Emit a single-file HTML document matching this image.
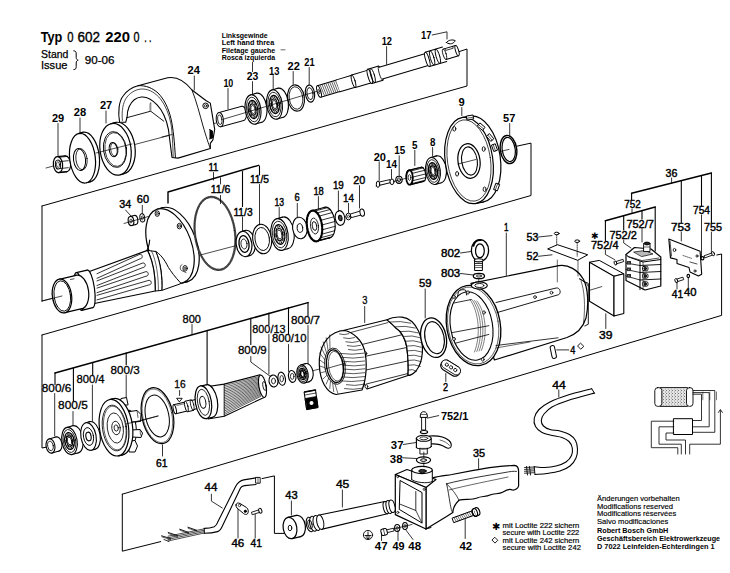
<!DOCTYPE html>
<html><head><meta charset="utf-8"><style>
html,body{margin:0;padding:0;background:#fff;width:730px;height:573px;overflow:hidden}
svg{display:block}
text{font-family:"Liberation Sans",sans-serif}
</style></head><body>
<svg width="730" height="573" viewBox="0 0 730 573">
<defs><pattern id="stip" width="3" height="3" patternUnits="userSpaceOnUse"><rect width="3" height="3" fill="#e4e4e4"/><rect x="0" y="0" width="1" height="1" fill="#777"/><rect x="2" y="1.5" width="1" height="1" fill="#999"/></pattern></defs>
<rect width="730" height="573" fill="#fff"/>
<g stroke="#000" fill="none" stroke-linecap="round" stroke-linejoin="round">
<polyline points="42,206 467,86 467,49 458,52" stroke-width="1.0" fill="none" />
<line x1="42" y1="206" x2="42" y2="301" stroke-width="1.0" />
<line x1="42" y1="301" x2="53" y2="298.2" stroke-width="0.8" />
<polyline points="42,335 531,195.5 531,143.1 516.7,146.2" stroke-width="1.0" fill="none" />
<polyline points="42,335 42,448 47,447" stroke-width="1.0" fill="none" />
<polyline points="122.3,494.2 721.6,315.4 721.6,254 716.8,255" stroke-width="1.0" fill="none" />
<polyline points="122.3,494.2 122.3,551.2 160.7,541.6" stroke-width="1.0" fill="none" />
<polyline points="262,478.6 274.4,475.9 274.4,533.4 285.3,533.4" stroke-width="1.0" fill="none" />
</g>
<g stroke="#000" fill="none" stroke-linecap="round" stroke-linejoin="round">
<line x1="46" y1="168" x2="216" y2="123" stroke-width="0.7" />
<ellipse cx="66" cy="163.8" rx="4.6" ry="8" stroke-width="1.2" fill="#fff" transform="rotate(-6 66 163.8)" />
<polygon points="57.2,156.6 65.2,155.8 66.8,171.8 58.8,172.6" fill="#fff" stroke="none"/>
<line x1="57.2" y1="156.6" x2="65.2" y2="155.8" stroke-width="1.2" />
<line x1="58.8" y1="172.6" x2="66.8" y2="171.8" stroke-width="1.2" />
<ellipse cx="58" cy="164.6" rx="4.6" ry="8" stroke-width="1.2" fill="#fff" transform="rotate(-6 58 164.6)" />
<line x1="59.5" y1="157.2" x2="67.5" y2="156.4" stroke-width="0.8" />
<line x1="60.3" y1="161.5" x2="68.3" y2="160.7" stroke-width="0.8" />
<line x1="60.3" y1="168.5" x2="68.3" y2="167.7" stroke-width="0.8" />
<line x1="59.5" y1="172.2" x2="67.5" y2="171.4" stroke-width="0.8" />
<ellipse cx="58" cy="164.6" rx="2.6" ry="4.5" stroke-width="1.0" fill="#fff" transform="rotate(-6 58 164.6)" />
<ellipse cx="58" cy="164.6" rx="1.5" ry="2.8" stroke-width="0.7" fill="none" transform="rotate(-6 58 164.6)" />
<ellipse cx="86.5" cy="157" rx="12.8" ry="25" stroke-width="1.2" fill="#fff" transform="rotate(-7 86.5 157)" />
<polygon points="78.4,133.6 82.4,132.4 90.6,181.6 86.6,182.8" fill="#fff" stroke="none"/>
<line x1="78.4" y1="133.6" x2="82.4" y2="132.4" stroke-width="1.2" />
<line x1="86.6" y1="182.8" x2="90.6" y2="181.6" stroke-width="1.2" />
<ellipse cx="82.5" cy="158.2" rx="12.8" ry="25" stroke-width="1.2" fill="#fff" transform="rotate(-7 82.5 158.2)" />
<ellipse cx="79.5" cy="159.5" rx="6" ry="11" stroke-width="1.0" fill="#fff" transform="rotate(-7 79.5 159.5)" />
<ellipse cx="81.5" cy="159.2" rx="5.6" ry="10.6" stroke-width="0.8" fill="none" transform="rotate(-7 81.5 159.2)" />
<ellipse cx="119.5" cy="148.1" rx="15.5" ry="26" stroke-width="1.2" fill="#fff" transform="rotate(-8 119.5 148.1)" />
<polygon points="110.5,123.9 114.5,122.7 124.5,173.5 120.5,174.7" fill="#fff" stroke="none"/>
<line x1="110.5" y1="123.9" x2="114.5" y2="122.7" stroke-width="1.2" />
<line x1="120.5" y1="174.7" x2="124.5" y2="173.5" stroke-width="1.2" />
<ellipse cx="115.5" cy="149.3" rx="15.5" ry="26" stroke-width="1.2" fill="#fff" transform="rotate(-8 115.5 149.3)" />
<ellipse cx="115" cy="149.5" rx="11.5" ry="18" stroke-width="0.9" fill="none" transform="rotate(-8 115 149.5)" />
<ellipse cx="115.5" cy="149.5" rx="10.5" ry="17" stroke-width="0.7" fill="none" transform="rotate(-8 115.5 149.5)" />
<ellipse cx="113.2" cy="149.6" rx="4" ry="7.2" stroke-width="1.0" fill="#fff" transform="rotate(-8 113.2 149.6)" />
<ellipse cx="114.3" cy="149.4" rx="3.6" ry="6.8" stroke-width="0.7" fill="none" transform="rotate(-8 114.3 149.4)" />
<line x1="96" y1="153" x2="132" y2="144" stroke-width="0.7" />
<path d="M119.6,122.3 C117.8,112 118.8,101 123.5,95.5 C127,90.5 132,87.3 138,85.7 L167.6,77.8 C175,76.4 184,80 192,90 L205.9,100.5 L210.3,103.1 L214.7,129.3 L212.9,139.8 L210.3,143.3 L210.3,148.5 L178,158.1 L172,157.5 L168.4,129.3 C166.5,120 163,111 157.1,104.9 C152,99.5 146,96.5 141.4,97 C136,97.5 131.5,101.5 129.2,106.6 C127.5,110.5 127.1,114 127.1,117.1 L125.7,122.3 Z" stroke-width="1.1" fill="#fff" />
<path d="M138,85.7 C146,85 153,88.5 158,93 C164,99 168.5,108 171,118.8 C173.3,129 174.5,142 175.4,157.5" stroke-width="1.0" fill="none" />
<path d="M122.4,120.5 C121.5,111 122.8,102.5 127,97 C131,92 136.5,89 142.5,89 C150,89.2 156,93.5 160.5,99 C165.5,105.5 169,114 171,124 C172.3,132 172.8,145 173.2,157.5" stroke-width="0.7" fill="none" />
<polyline points="126.5,117.8 150.7,111.2 150.7,102.9" stroke-width="0.9" fill="none" />
<line x1="150.7" y1="111.2" x2="163.8" y2="121.2" stroke-width="0.9" />
<rect x="149" y="103.5" width="1.6" height="7.5" fill="#bbb" stroke="none"/>
<path d="M192,90 C196,100 200,115 203,126 C206,136 208.5,144 210.3,148.5" stroke-width="0.9" fill="none" />
<ellipse cx="205.6" cy="105.8" rx="2.8" ry="2.8" stroke-width="1.0" fill="#fff" />
<ellipse cx="205.6" cy="105.8" rx="1.2" ry="1.2" stroke-width="0.8" fill="none" />
<polyline points="209.5,129.5 212.5,131 212.5,138 209.5,139" stroke-width="0.9" fill="#000" />
<line x1="162" y1="137" x2="172" y2="134.5" stroke-width="0.7" />
<ellipse cx="242.8" cy="113.4" rx="3.6" ry="7.2" stroke-width="1.0" fill="#fff" transform="rotate(-6 242.8 113.4)" />
<polygon points="218.8,112.6 241.8,106.3 243.8,120.5 220.8,126.8" fill="#fff" stroke="none"/>
<line x1="218.8" y1="112.6" x2="241.8" y2="106.3" stroke-width="1.0" />
<line x1="220.8" y1="126.8" x2="243.8" y2="120.5" stroke-width="1.0" />
<ellipse cx="219.8" cy="119.7" rx="3.6" ry="7.2" stroke-width="1.0" fill="#fff" transform="rotate(-6 219.8 119.7)" />
<ellipse cx="219.8" cy="119.7" rx="2.1" ry="4.8" stroke-width="0.8" fill="#fff" transform="rotate(-6 219.8 119.7)" />
<ellipse cx="259" cy="107.8" rx="7.8" ry="14.8" stroke-width="1.1" fill="#fff" transform="rotate(-8 259 107.8)" />
<polygon points="250.4,95.0 256.4,93.3 261.6,122.3 255.6,124.0" fill="#fff" stroke="none"/>
<line x1="250.4" y1="95" x2="256.4" y2="93.3" stroke-width="1.1" />
<line x1="255.6" y1="124" x2="261.6" y2="122.3" stroke-width="1.1" />
<ellipse cx="253" cy="109.5" rx="7.8" ry="14.8" stroke-width="1.1" fill="#fff" transform="rotate(-8 253 109.5)" />
<ellipse cx="253" cy="109.5" rx="6.4" ry="12.4" stroke-width="0.8" fill="none" transform="rotate(-8 253 109.5)" />
<ellipse cx="253" cy="109.5" rx="4.8" ry="9.2" stroke-width="1.2" fill="none" transform="rotate(-8 253 109.5)" />
<ellipse cx="256.9" cy="109" rx="0.9" ry="1.5" stroke-width="0.7" fill="none" />
<ellipse cx="256.5" cy="114.3" rx="0.9" ry="1.5" stroke-width="0.7" fill="none" />
<ellipse cx="254" cy="116.8" rx="0.9" ry="1.5" stroke-width="0.7" fill="none" />
<ellipse cx="251" cy="115.1" rx="0.9" ry="1.5" stroke-width="0.7" fill="none" />
<ellipse cx="249.1" cy="110" rx="0.9" ry="1.5" stroke-width="0.7" fill="none" />
<ellipse cx="249.5" cy="104.7" rx="0.9" ry="1.5" stroke-width="0.7" fill="none" />
<ellipse cx="252" cy="102.2" rx="0.9" ry="1.5" stroke-width="0.7" fill="none" />
<ellipse cx="255" cy="103.9" rx="0.9" ry="1.5" stroke-width="0.7" fill="none" />
<ellipse cx="253" cy="109.5" rx="3" ry="5.6" stroke-width="1.1" fill="#fff" transform="rotate(-8 253 109.5)" />
<ellipse cx="253" cy="109.5" rx="2.2" ry="4.1" stroke-width="0.8" fill="none" transform="rotate(-8 253 109.5)" />
<ellipse cx="280.5" cy="102.8" rx="7.8" ry="14.8" stroke-width="1.1" fill="#fff" transform="rotate(-8 280.5 102.8)" />
<polygon points="271.9,90.0 277.9,88.3 283.1,117.3 277.1,119.0" fill="#fff" stroke="none"/>
<line x1="271.9" y1="90" x2="277.9" y2="88.3" stroke-width="1.1" />
<line x1="277.1" y1="119" x2="283.1" y2="117.3" stroke-width="1.1" />
<ellipse cx="274.5" cy="104.5" rx="7.8" ry="14.8" stroke-width="1.1" fill="#fff" transform="rotate(-8 274.5 104.5)" />
<ellipse cx="274.5" cy="104.5" rx="6.4" ry="12.4" stroke-width="0.8" fill="none" transform="rotate(-8 274.5 104.5)" />
<ellipse cx="274.5" cy="104.5" rx="4.8" ry="9.2" stroke-width="1.2" fill="none" transform="rotate(-8 274.5 104.5)" />
<ellipse cx="278.4" cy="104" rx="0.9" ry="1.5" stroke-width="0.7" fill="none" />
<ellipse cx="278" cy="109.3" rx="0.9" ry="1.5" stroke-width="0.7" fill="none" />
<ellipse cx="275.5" cy="111.8" rx="0.9" ry="1.5" stroke-width="0.7" fill="none" />
<ellipse cx="272.5" cy="110.1" rx="0.9" ry="1.5" stroke-width="0.7" fill="none" />
<ellipse cx="270.6" cy="105" rx="0.9" ry="1.5" stroke-width="0.7" fill="none" />
<ellipse cx="271" cy="99.7" rx="0.9" ry="1.5" stroke-width="0.7" fill="none" />
<ellipse cx="273.5" cy="97.2" rx="0.9" ry="1.5" stroke-width="0.7" fill="none" />
<ellipse cx="276.5" cy="98.9" rx="0.9" ry="1.5" stroke-width="0.7" fill="none" />
<ellipse cx="274.5" cy="104.5" rx="3" ry="5.6" stroke-width="1.1" fill="#fff" transform="rotate(-8 274.5 104.5)" />
<ellipse cx="274.5" cy="104.5" rx="2.2" ry="4.1" stroke-width="0.8" fill="none" transform="rotate(-8 274.5 104.5)" />
<line x1="224" y1="119" x2="318" y2="91" stroke-width="0.7" />
<ellipse cx="296" cy="98" rx="8.4" ry="13.2" stroke-width="1.1" fill="none" transform="rotate(-8 296 98)" />
<ellipse cx="296" cy="98" rx="6.8" ry="11.3" stroke-width="0.8" fill="none" transform="rotate(-8 296 98)" />
<ellipse cx="310" cy="93.6" rx="4.6" ry="8.6" stroke-width="1.1" fill="none" transform="rotate(-8 310 93.6)" />
<ellipse cx="310" cy="93.6" rx="3" ry="6" stroke-width="0.9" fill="none" transform="rotate(-8 310 93.6)" />
<g transform="translate(319,91.5) rotate(-16.5)">
<rect x="0" y="-6.0" width="20" height="12.0" fill="#fff" stroke="none"/>
<line x1="0" y1="-6" x2="20" y2="-6" stroke-width="1.0" />
<line x1="0" y1="6" x2="20" y2="6" stroke-width="1.0" />
<line x1="3" y1="-5.2" x2="4" y2="5.2" stroke-width="0.55" />
<line x1="5" y1="-5.2" x2="6" y2="5.2" stroke-width="0.55" />
<line x1="7" y1="-5.2" x2="8" y2="5.2" stroke-width="0.55" />
<line x1="9" y1="-5.2" x2="10" y2="5.2" stroke-width="0.55" />
<line x1="11" y1="-5.2" x2="12" y2="5.2" stroke-width="0.55" />
<line x1="13" y1="-5.2" x2="14" y2="5.2" stroke-width="0.55" />
<line x1="15" y1="-5.2" x2="16" y2="5.2" stroke-width="0.55" />
<line x1="17" y1="-5.2" x2="18" y2="5.2" stroke-width="0.55" />
<line x1="19" y1="-5.2" x2="20" y2="5.2" stroke-width="0.55" />
<ellipse cx="0" cy="0" rx="1.8" ry="6" stroke-width="1.0" fill="#fff" />
<ellipse cx="0" cy="0" rx="0.8" ry="2.5" stroke-width="0.6" fill="none" />
<rect x="20" y="-6.2" width="16" height="12.4" fill="#fff" stroke="none"/>
<line x1="20" y1="-6.2" x2="36" y2="-6.2" stroke-width="1.0" />
<line x1="20" y1="6.2" x2="36" y2="6.2" stroke-width="1.0" />
<rect x="36" y="-6.6" width="17" height="13.2" fill="#fff" stroke="none"/>
<line x1="36" y1="-6.6" x2="53" y2="-6.6" stroke-width="1.0" />
<line x1="36" y1="6.6" x2="53" y2="6.6" stroke-width="1.0" />
<ellipse cx="36" cy="0" rx="1.6" ry="6.6" stroke-width="0.9" fill="none" />
<rect x="53" y="-7.4" width="11.5" height="14.8" fill="#fff" stroke="none"/>
<line x1="53" y1="-7.4" x2="64.5" y2="-7.4" stroke-width="1.0" />
<line x1="53" y1="7.4" x2="64.5" y2="7.4" stroke-width="1.0" />
<ellipse cx="53" cy="0" rx="1.8" ry="7.4" stroke-width="1.0" fill="#fff" />
<ellipse cx="56" cy="0" rx="1.8" ry="7.4" stroke-width="0.9" fill="none" />
<ellipse cx="64.5" cy="0" rx="1.6" ry="7.4" stroke-width="0.8" fill="none" />
<rect x="64.5" y="-6.1" width="48.5" height="12.2" fill="#fff" stroke="none"/>
<line x1="64.5" y1="-6.1" x2="113" y2="-6.1" stroke-width="1.0" />
<line x1="64.5" y1="6.1" x2="113" y2="6.1" stroke-width="1.0" />
<rect x="113" y="-7.5" width="18" height="15.0" fill="#fff" stroke="none"/>
<line x1="113" y1="-7.5" x2="131" y2="-7.5" stroke-width="1.0" />
<line x1="113" y1="7.5" x2="131" y2="7.5" stroke-width="1.0" />
<ellipse cx="113" cy="0" rx="1.8" ry="7.5" stroke-width="1.0" fill="#fff" />
<ellipse cx="118" cy="0" rx="1.8" ry="7.5" stroke-width="0.9" fill="none" />
<ellipse cx="124" cy="0" rx="1.8" ry="7.5" stroke-width="0.9" fill="none" />
<rect x="131" y="-5.4" width="13" height="10.8" fill="#fff" stroke="none"/>
<line x1="131" y1="-5.4" x2="144" y2="-5.4" stroke-width="1.0" />
<line x1="131" y1="5.4" x2="144" y2="5.4" stroke-width="1.0" />
<ellipse cx="131" cy="0" rx="1.6" ry="5.4" stroke-width="0.8" fill="none" />
<ellipse cx="144" cy="0" rx="1.5" ry="5.4" stroke-width="1.0" fill="#fff" />
<path d="M133,-5.4 L133,-3.4 L141,-3.4 L141,-5.4" stroke-width="0.7" fill="none" />
</g>
<path d="M446.4,42.5 C448.5,39.8 452.5,39.4 455.2,40.6 C454,43.5 450,45.3 446.4,42.5 Z" stroke-width="1.0" fill="#fff" />
<polyline points="432.2,35 447,31.8 447,39" stroke-width="0.8" fill="none" />
<line x1="58" y1="123.5" x2="58" y2="156" stroke-width="0.8" />
<line x1="80" y1="118" x2="80" y2="134" stroke-width="0.8" />
<line x1="106" y1="111" x2="106" y2="123" stroke-width="0.8" />
<line x1="194.3" y1="76" x2="194.3" y2="90" stroke-width="0.8" />
<line x1="228" y1="88.5" x2="228" y2="109" stroke-width="0.8" />
<line x1="252.5" y1="62.5" x2="252.5" y2="71.5" stroke-width="0.8" />
<line x1="252.5" y1="81.6" x2="252.5" y2="94" stroke-width="0.8" />
<line x1="273.2" y1="75.5" x2="273.2" y2="89" stroke-width="0.8" />
<line x1="293.2" y1="71.5" x2="293.2" y2="84.5" stroke-width="0.8" />
<line x1="309.2" y1="67.5" x2="309.2" y2="85" stroke-width="0.8" />
<line x1="386.6" y1="46.6" x2="386.6" y2="64.4" stroke-width="0.8" />
<line x1="281" y1="49.8" x2="285" y2="49.8" stroke-width="0.6" />
<line x1="52" y1="294" x2="364" y2="212" stroke-width="0.7" />
<ellipse cx="135" cy="220" rx="2.8" ry="4.6" stroke-width="1.1" fill="#fff" transform="rotate(-8 135 220)" />
<polygon points="130.2,216.5 134.2,215.5 135.8,224.5 131.8,225.5" fill="#fff" stroke="none"/>
<line x1="130.2" y1="216.5" x2="134.2" y2="215.5" stroke-width="1.1" />
<line x1="131.8" y1="225.5" x2="135.8" y2="224.5" stroke-width="1.1" />
<ellipse cx="131" cy="221" rx="2.8" ry="4.6" stroke-width="1.1" fill="#fff" transform="rotate(-8 131 221)" />
<ellipse cx="131" cy="221" rx="1.2" ry="2" stroke-width="0.7" fill="none" />
<ellipse cx="142.3" cy="217.9" rx="2.4" ry="4.2" stroke-width="1.0" fill="#fff" transform="rotate(-8 142.3 217.9)" />
<ellipse cx="142.3" cy="217.9" rx="1" ry="2" stroke-width="0.7" fill="none" />
<line x1="124" y1="223.5" x2="157" y2="214" stroke-width="0.7" />
<line x1="125.5" y1="210" x2="131" y2="216" stroke-width="0.8" />
<line x1="142.3" y1="205.3" x2="142.3" y2="213.5" stroke-width="0.8" />
<ellipse cx="175" cy="244.7" rx="21.5" ry="39" stroke-width="1.2" fill="#fff" transform="rotate(-20 175 244.7)" />
<polygon points="157.7,209.0 162.7,207.7 187.3,281.7 182.3,283.0" fill="#fff" stroke="none"/>
<line x1="157.7" y1="209" x2="162.7" y2="207.7" stroke-width="1.2" />
<line x1="182.3" y1="283" x2="187.3" y2="281.7" stroke-width="1.2" />
<ellipse cx="170" cy="246" rx="21.5" ry="39" stroke-width="1.2" fill="#fff" transform="rotate(-20 170 246)" />
<ellipse cx="157.3" cy="213.6" rx="2.2" ry="2.8" stroke-width="0.9" fill="#fff" />
<ellipse cx="157.3" cy="213.6" rx="1" ry="1.3" stroke-width="0.7" fill="none" />
<ellipse cx="179.4" cy="226.1" rx="2.2" ry="2.8" stroke-width="0.9" fill="#fff" />
<ellipse cx="179.4" cy="226.1" rx="1" ry="1.3" stroke-width="0.7" fill="none" />
<ellipse cx="185.1" cy="268.3" rx="2.2" ry="2.8" stroke-width="0.9" fill="#fff" />
<ellipse cx="185.1" cy="268.3" rx="1" ry="1.3" stroke-width="0.7" fill="none" />
<path d="M182,264.5 C180,265.5 179.5,269 181.5,270.5 L186,272.5" stroke-width="0.7" fill="none" />
<path d="M155.8,251.5 C160,254 164,258.5 168.4,267.4 C171,271.5 175,277 180.4,282.7 L180.4,283.8 L161.8,290.4 C162.5,282 162,265 155.8,251.5 Z" stroke-width="1.0" fill="#fff" />
<path d="M146.4,251 C148.3,248.5 149.3,244.5 149.7,240" stroke-width="1.1" fill="none" />
<path d="M147.5,250.4 L155.8,251.5 C160.5,262 162.5,278 161.8,290.4 L155.2,291 C155.5,279 153.5,262 147.5,250.4 Z" stroke-width="1.0" fill="#fff" />
<path d="M151.5,250.9 C156.5,261 158.5,277 158.4,290.7" stroke-width="0.6" fill="none" />
<path d="M88,272 L147.5,250.4 C153.5,262 155.5,279 155.2,291 L87,305 Z" stroke-width="1.2" fill="#fff" />
<path d="M97,273.7 L140,254.2 C143,254.2 143,258.8 140,258.8 L97,278.3" stroke-width="0.8" fill="none" />
<path d="M97,280.9 L143,262.9 C146,262.9 146,267.5 143,267.5 L97,285.5" stroke-width="0.8" fill="none" />
<path d="M97,288.1 L146,271.6 C149,271.6 149,276.2 146,276.2 L97,292.7" stroke-width="0.8" fill="none" />
<path d="M97,295.3 L149,280.3 C152,280.3 152,284.9 149,284.9 L97,299.9" stroke-width="0.8" fill="none" />
<ellipse cx="90" cy="288.9" rx="4.5" ry="19" stroke-width="1.2" fill="#fff" transform="rotate(-8 90 288.9)" />
<polygon points="76.3,272.7 87.3,270.1 92.7,307.7 81.7,310.3" fill="#fff" stroke="none"/>
<line x1="76.3" y1="272.7" x2="87.3" y2="270.1" stroke-width="1.2" />
<line x1="81.7" y1="310.3" x2="92.7" y2="307.7" stroke-width="1.2" />
<ellipse cx="79" cy="291.5" rx="4.5" ry="19" stroke-width="1.2" fill="#fff" transform="rotate(-8 79 291.5)" />
<ellipse cx="79" cy="292" rx="9.6" ry="17" stroke-width="1.2" fill="#fff" transform="rotate(-8 79 292)" />
<polygon points="59.1,279.3 76.1,275.3 81.9,308.7 64.9,312.7" fill="#fff" stroke="none"/>
<line x1="59.1" y1="279.3" x2="76.1" y2="275.3" stroke-width="1.2" />
<line x1="64.9" y1="312.7" x2="81.9" y2="308.7" stroke-width="1.2" />
<ellipse cx="62" cy="296" rx="9.6" ry="17" stroke-width="1.2" fill="#fff" transform="rotate(-8 62 296)" />
<ellipse cx="62.3" cy="296" rx="8.2" ry="15.3" stroke-width="0.9" fill="#fff" transform="rotate(-8 62.3 296)" />
<line x1="70.5" y1="279.5" x2="74" y2="278.8" stroke-width="0.7" />
<line x1="42" y1="301" x2="62" y2="296" stroke-width="0.7" />
<ellipse cx="215" cy="233.4" rx="20.3" ry="37" stroke-width="1.7" fill="none" transform="rotate(-8 215 233.4)" stroke="#444" stroke-dasharray="0.8 0.8"/>
<ellipse cx="215" cy="233.4" rx="19.4" ry="36.1" stroke-width="0.6" fill="none" transform="rotate(-8 215 233.4)" />
<ellipse cx="247.5" cy="243" rx="7.8" ry="12.8" stroke-width="1.2" fill="#fff" transform="rotate(-8 247.5 243)" />
<polygon points="241.6,231.5 245.1,230.5 249.9,255.5 246.4,256.5" fill="#fff" stroke="none"/>
<line x1="241.6" y1="231.5" x2="245.1" y2="230.5" stroke-width="1.2" />
<line x1="246.4" y1="256.5" x2="249.9" y2="255.5" stroke-width="1.2" />
<ellipse cx="244" cy="244" rx="7.8" ry="12.8" stroke-width="1.2" fill="#fff" transform="rotate(-8 244 244)" />
<ellipse cx="244" cy="244" rx="5" ry="8.5" stroke-width="1.3" fill="#fff" transform="rotate(-8 244 244)" />
<ellipse cx="244" cy="244" rx="3" ry="5" stroke-width="0.8" fill="none" transform="rotate(-8 244 244)" />
<ellipse cx="262.2" cy="239" rx="9.4" ry="14.8" stroke-width="1.1" fill="#fff" transform="rotate(-8 262.2 239)" />
<ellipse cx="262.2" cy="239" rx="7.2" ry="11.6" stroke-width="0.9" fill="none" transform="rotate(-8 262.2 239)" />
<ellipse cx="285.5" cy="232.8" rx="8.6" ry="16" stroke-width="1.1" fill="#fff" transform="rotate(-8 285.5 232.8)" />
<polygon points="276.7,218.8 282.7,217.1 288.3,248.5 282.3,250.2" fill="#fff" stroke="none"/>
<line x1="276.7" y1="218.8" x2="282.7" y2="217.1" stroke-width="1.1" />
<line x1="282.3" y1="250.2" x2="288.3" y2="248.5" stroke-width="1.1" />
<ellipse cx="279.5" cy="234.5" rx="8.6" ry="16" stroke-width="1.1" fill="#fff" transform="rotate(-8 279.5 234.5)" />
<ellipse cx="279.5" cy="234.5" rx="7.1" ry="13.4" stroke-width="0.8" fill="none" transform="rotate(-8 279.5 234.5)" />
<ellipse cx="279.5" cy="234.5" rx="5.3" ry="9.9" stroke-width="1.2" fill="none" transform="rotate(-8 279.5 234.5)" />
<ellipse cx="283.8" cy="233.9" rx="0.9" ry="1.6" stroke-width="0.7" fill="none" />
<ellipse cx="283.3" cy="239.7" rx="0.9" ry="1.6" stroke-width="0.7" fill="none" />
<ellipse cx="280.6" cy="242.4" rx="0.9" ry="1.6" stroke-width="0.7" fill="none" />
<ellipse cx="277.3" cy="240.5" rx="0.9" ry="1.6" stroke-width="0.7" fill="none" />
<ellipse cx="275.2" cy="235.1" rx="0.9" ry="1.6" stroke-width="0.7" fill="none" />
<ellipse cx="275.7" cy="229.3" rx="0.9" ry="1.6" stroke-width="0.7" fill="none" />
<ellipse cx="278.4" cy="226.6" rx="0.9" ry="1.6" stroke-width="0.7" fill="none" />
<ellipse cx="281.7" cy="228.5" rx="0.9" ry="1.6" stroke-width="0.7" fill="none" />
<ellipse cx="279.5" cy="234.5" rx="3.3" ry="6.1" stroke-width="1.1" fill="#fff" transform="rotate(-8 279.5 234.5)" />
<ellipse cx="279.5" cy="234.5" rx="2.4" ry="4.5" stroke-width="0.8" fill="none" transform="rotate(-8 279.5 234.5)" />
<ellipse cx="299.9" cy="228" rx="7.3" ry="10.8" stroke-width="1.1" fill="#fff" transform="rotate(-8 299.9 228)" />
<ellipse cx="299.9" cy="228" rx="2.8" ry="4.4" stroke-width="0.9" fill="none" transform="rotate(-8 299.9 228)" />
<ellipse cx="327.5" cy="222.5" rx="7.5" ry="15.5" stroke-width="1.1" fill="#fff" transform="rotate(-8 327.5 222.5)" />
<polygon points="311.9,210.7 324.9,207.2 330.1,237.8 317.1,241.3" fill="#fff" stroke="none"/>
<line x1="311.9" y1="210.7" x2="324.9" y2="207.2" stroke-width="1.1" />
<line x1="317.1" y1="241.3" x2="330.1" y2="237.8" stroke-width="1.1" />
<ellipse cx="314.5" cy="226" rx="7.5" ry="15.5" stroke-width="1.1" fill="#fff" transform="rotate(-8 314.5 226)" />
<line x1="314.7" y1="211.1" x2="327.7" y2="207.6" stroke-width="0.8" />
<line x1="317.1" y1="213" x2="330.1" y2="209.5" stroke-width="0.8" />
<line x1="319.2" y1="216.1" x2="332.2" y2="212.6" stroke-width="0.8" />
<line x1="320.9" y1="220.3" x2="333.9" y2="216.8" stroke-width="0.8" />
<line x1="321.9" y1="225" x2="334.9" y2="221.5" stroke-width="0.8" />
<line x1="322.2" y1="229.8" x2="335.2" y2="226.3" stroke-width="0.8" />
<line x1="321.8" y1="234.2" x2="334.8" y2="230.7" stroke-width="0.8" />
<line x1="320.6" y1="237.8" x2="333.6" y2="234.3" stroke-width="0.8" />
<line x1="318.8" y1="240.3" x2="331.8" y2="236.8" stroke-width="0.8" />
<line x1="316.7" y1="241.3" x2="329.7" y2="237.8" stroke-width="0.8" />
<ellipse cx="314.5" cy="226" rx="7.5" ry="15.5" transform="rotate(-8 314.5 226)" stroke-width="2.2" fill="#fff" stroke-dasharray="2 1.4"/>
<ellipse cx="314.5" cy="226" rx="4" ry="8" stroke-width="0.8" fill="none" transform="rotate(-8 314.5 226)" />
<ellipse cx="314.5" cy="226" rx="2.2" ry="4.4" stroke-width="0.9" fill="#fff" transform="rotate(-8 314.5 226)" />
<ellipse cx="340" cy="218" rx="4.8" ry="7.4" stroke-width="1.1" fill="#fff" transform="rotate(-8 340 218)" />
<ellipse cx="340.3" cy="218" rx="1.8" ry="2.8" stroke-width="1.0" fill="#444" transform="rotate(-8 340.3 218)" />
<ellipse cx="348.5" cy="216.5" rx="2.6" ry="3.4" stroke-width="1.0" fill="#fff" />
<ellipse cx="348.5" cy="216.5" rx="1" ry="1.4" stroke-width="0.7" fill="none" />
<polygon points="350.5,214 361,210.8 362,214.8 351.5,217.6" stroke-width="0.9" fill="#fff" />
<ellipse cx="362.2" cy="212.6" rx="2.2" ry="3.6" stroke-width="1.0" fill="#fff" transform="rotate(-10 362.2 212.6)" />
<polyline points="168,203 168,192 258.6,165.3" stroke-width="1.4" fill="none" />
<line x1="213.5" y1="172.5" x2="213.5" y2="180" stroke-width="0.8" />
<line x1="220.5" y1="177.8" x2="220.5" y2="184" stroke-width="0.8" />
<line x1="220.5" y1="195.5" x2="220.5" y2="203.5" stroke-width="0.8" />
<line x1="242.5" y1="171.5" x2="242.5" y2="206.5" stroke-width="1.1" />
<line x1="242.5" y1="217" x2="242.5" y2="231" stroke-width="0.8" />
<line x1="259.5" y1="166" x2="259.5" y2="175" stroke-width="1.1" />
<line x1="259.5" y1="184.5" x2="259.5" y2="224.5" stroke-width="0.8" />
<line x1="279.2" y1="207.5" x2="279.2" y2="218.5" stroke-width="0.8" />
<line x1="297.3" y1="203.4" x2="297.3" y2="217" stroke-width="0.8" />
<line x1="318.4" y1="196.6" x2="318.4" y2="209" stroke-width="0.8" />
<line x1="338.4" y1="191" x2="338.4" y2="211.5" stroke-width="0.8" />
<line x1="348.5" y1="203.4" x2="348.5" y2="212.5" stroke-width="0.8" />
<line x1="359.5" y1="185.6" x2="359.5" y2="208" stroke-width="0.8" />
<line x1="376" y1="186" x2="512" y2="151" stroke-width="0.7" />
<polygon points="378,182.3 390,179.6 390.5,182.6 378.5,185.6" stroke-width="0.9" fill="#fff" />
<ellipse cx="378" cy="184.2" rx="1.7" ry="3.2" stroke-width="1.0" fill="#fff" />
<ellipse cx="392" cy="181.8" rx="2" ry="2.8" stroke-width="1.0" fill="#fff" />
<ellipse cx="399" cy="179.8" rx="3.2" ry="3.6" stroke-width="1.1" fill="none" />
<ellipse cx="399" cy="179.8" rx="1.6" ry="2" stroke-width="0.8" fill="none" />
<ellipse cx="422.5" cy="174.3" rx="3.2" ry="7.2" stroke-width="1.1" fill="#fff" transform="rotate(-8 422.5 174.3)" />
<polygon points="408.4,170.4 421.4,167.2 423.6,181.4 410.6,184.6" fill="#fff" stroke="none"/>
<line x1="408.4" y1="170.4" x2="421.4" y2="167.2" stroke-width="1.1" />
<line x1="410.6" y1="184.6" x2="423.6" y2="181.4" stroke-width="1.1" />
<ellipse cx="409.5" cy="177.5" rx="3.2" ry="7.2" stroke-width="1.1" fill="#fff" transform="rotate(-8 409.5 177.5)" />
<line x1="408.5" y1="170.4" x2="421.5" y2="167.2" stroke-width="0.8" />
<line x1="410.2" y1="171.1" x2="423.2" y2="167.9" stroke-width="0.8" />
<line x1="411.7" y1="173.5" x2="424.7" y2="170.3" stroke-width="0.8" />
<line x1="412.7" y1="177.1" x2="425.7" y2="173.9" stroke-width="0.8" />
<line x1="412.7" y1="180.7" x2="425.7" y2="177.5" stroke-width="0.8" />
<line x1="412" y1="183.5" x2="425" y2="180.3" stroke-width="0.8" />
<line x1="410.5" y1="184.6" x2="423.5" y2="181.4" stroke-width="0.8" />
<ellipse cx="409.5" cy="177.5" rx="3.2" ry="7.2" stroke-width="1.8" fill="#fff" stroke-dasharray="1.5 1"/>
<ellipse cx="409.5" cy="177.5" rx="1.4" ry="2.8" stroke-width="0.8" fill="none" />
<ellipse cx="439" cy="169.3" rx="7.3" ry="13.6" stroke-width="1.1" fill="#fff" transform="rotate(-8 439 169.3)" />
<polygon points="430.6,157.6 436.6,155.9 441.4,182.7 435.4,184.4" fill="#fff" stroke="none"/>
<line x1="430.6" y1="157.6" x2="436.6" y2="155.9" stroke-width="1.1" />
<line x1="435.4" y1="184.4" x2="441.4" y2="182.7" stroke-width="1.1" />
<ellipse cx="433" cy="171" rx="7.3" ry="13.6" stroke-width="1.1" fill="#fff" transform="rotate(-8 433 171)" />
<ellipse cx="433" cy="171" rx="6" ry="11.4" stroke-width="0.8" fill="none" transform="rotate(-8 433 171)" />
<ellipse cx="433" cy="171" rx="4.5" ry="8.4" stroke-width="1.2" fill="none" transform="rotate(-8 433 171)" />
<ellipse cx="436.6" cy="170.5" rx="0.8" ry="1.4" stroke-width="0.7" fill="none" />
<ellipse cx="436.2" cy="175.4" rx="0.8" ry="1.4" stroke-width="0.7" fill="none" />
<ellipse cx="433.9" cy="177.7" rx="0.8" ry="1.4" stroke-width="0.7" fill="none" />
<ellipse cx="431.1" cy="176.1" rx="0.8" ry="1.4" stroke-width="0.7" fill="none" />
<ellipse cx="429.4" cy="171.5" rx="0.8" ry="1.4" stroke-width="0.7" fill="none" />
<ellipse cx="429.8" cy="166.6" rx="0.8" ry="1.4" stroke-width="0.7" fill="none" />
<ellipse cx="432.1" cy="164.3" rx="0.8" ry="1.4" stroke-width="0.7" fill="none" />
<ellipse cx="434.9" cy="165.9" rx="0.8" ry="1.4" stroke-width="0.7" fill="none" />
<ellipse cx="433" cy="171" rx="2.8" ry="5.2" stroke-width="1.1" fill="#fff" transform="rotate(-8 433 171)" />
<ellipse cx="433" cy="171" rx="2" ry="3.8" stroke-width="0.8" fill="none" transform="rotate(-8 433 171)" />
<ellipse cx="476.5" cy="159" rx="23.8" ry="43.5" stroke-width="1.2" fill="#fff" transform="rotate(-8.4 476.5 159)" />
<polygon points="462.0,117.6 469.5,116.1 483.5,201.9 476.0,203.4" fill="#fff" stroke="none"/>
<line x1="462" y1="117.6" x2="469.5" y2="116.1" stroke-width="1.2" />
<line x1="476" y1="203.4" x2="483.5" y2="201.9" stroke-width="1.2" />
<ellipse cx="469" cy="160.5" rx="23.8" ry="43.5" stroke-width="1.2" fill="#fff" transform="rotate(-8.4 469 160.5)" />
<ellipse cx="469" cy="160.5" rx="21.5" ry="41" stroke-width="0.7" fill="none" transform="rotate(-8.4 469 160.5)" />
<g transform="translate(470,116.5) rotate(-10)">
<polygon points="-3.2,-1 3.2,-1 3.2,3 -3.2,3" fill="#fff" stroke="#000" stroke-width="0.9"/>
<line x1="-3.2" y1="1.2" x2="3.2" y2="1.2" stroke-width="0.6" />
</g>
<g transform="translate(482,126) rotate(40)">
<polygon points="-3.2,-1 3.2,-1 3.2,3 -3.2,3" fill="#fff" stroke="#000" stroke-width="0.9"/>
<line x1="-3.2" y1="1.2" x2="3.2" y2="1.2" stroke-width="0.6" />
</g>
<g transform="translate(491,137) rotate(50)">
<polygon points="-3.2,-1 3.2,-1 3.2,3 -3.2,3" fill="#fff" stroke="#000" stroke-width="0.9"/>
<line x1="-3.2" y1="1.2" x2="3.2" y2="1.2" stroke-width="0.6" />
</g>
<g transform="translate(495.5,147.5) rotate(70)">
<polygon points="-3.2,-1 3.2,-1 3.2,3 -3.2,3" fill="#fff" stroke="#000" stroke-width="0.9"/>
<line x1="-3.2" y1="1.2" x2="3.2" y2="1.2" stroke-width="0.6" />
</g>
<g transform="translate(497.5,187.5) rotate(110)">
<polygon points="-3.2,-1 3.2,-1 3.2,3 -3.2,3" fill="#fff" stroke="#000" stroke-width="0.9"/>
<line x1="-3.2" y1="1.2" x2="3.2" y2="1.2" stroke-width="0.6" />
</g>
<ellipse cx="454.3" cy="128.8" rx="1.5" ry="2.3" stroke-width="0.9" fill="none" />
<ellipse cx="483.7" cy="149" rx="1.5" ry="2.3" stroke-width="0.9" fill="none" />
<ellipse cx="457.1" cy="173.8" rx="1.5" ry="2.3" stroke-width="0.9" fill="none" />
<ellipse cx="484.6" cy="189.3" rx="1.5" ry="2.3" stroke-width="0.9" fill="none" />
<ellipse cx="469" cy="161" rx="11" ry="17.4" stroke-width="1.2" fill="#fff" transform="rotate(-8.4 469 161)" />
<ellipse cx="469.5" cy="161" rx="7.8" ry="14.2" stroke-width="1.1" fill="#fff" transform="rotate(-8.4 469.5 161)" />
<line x1="458" y1="164" x2="476" y2="159.5" stroke-width="0.7" />
<ellipse cx="508.5" cy="149.5" rx="8.2" ry="14.2" stroke-width="1.4" fill="#fff" transform="rotate(-8 508.5 149.5)" />
<ellipse cx="508.7" cy="149.5" rx="6.5" ry="12.2" stroke-width="1.2" fill="none" transform="rotate(-8 508.7 149.5)" />
<line x1="500" y1="151.5" x2="509" y2="149.4" stroke-width="0.7" />
<line x1="379.2" y1="161.8" x2="379.2" y2="180.4" stroke-width="0.8" />
<line x1="391.5" y1="169.5" x2="391.5" y2="178.5" stroke-width="0.8" />
<line x1="399.2" y1="155.8" x2="399.2" y2="175.5" stroke-width="0.8" />
<line x1="414.8" y1="150.3" x2="414.8" y2="165.5" stroke-width="0.8" />
<line x1="432.6" y1="147.5" x2="432.6" y2="156" stroke-width="0.8" />
<line x1="461.8" y1="107.5" x2="461.8" y2="115.5" stroke-width="0.8" />
<line x1="509.7" y1="123.5" x2="509.7" y2="135.3" stroke-width="0.8" />
<line x1="46" y1="447" x2="158" y2="416" stroke-width="0.7" />
<line x1="310" y1="371.5" x2="346" y2="362" stroke-width="0.7" />
<line x1="424" y1="340" x2="443" y2="334.5" stroke-width="0.7" />
<line x1="55" y1="373" x2="308" y2="302.6" stroke-width="1.5" />
<line x1="55" y1="373" x2="55" y2="384.5" stroke-width="1.1" />
<line x1="54.7" y1="393.5" x2="54.7" y2="436" stroke-width="0.8" />
<line x1="73.4" y1="368" x2="73.4" y2="401.5" stroke-width="1.1" />
<line x1="73" y1="411.5" x2="73" y2="426" stroke-width="0.8" />
<line x1="92.7" y1="362.5" x2="92.7" y2="375" stroke-width="1.1" />
<line x1="92.4" y1="385" x2="92.4" y2="421.5" stroke-width="0.8" />
<line x1="126.2" y1="353" x2="126.2" y2="364.8" stroke-width="1.1" />
<line x1="126.2" y1="375" x2="126.2" y2="399" stroke-width="0.8" />
<line x1="192" y1="324.5" x2="192" y2="334.6" stroke-width="0.8" />
<line x1="207.1" y1="330.4" x2="207.1" y2="385" stroke-width="1.1" />
<line x1="250.8" y1="318.2" x2="250.8" y2="344.5" stroke-width="1.1" />
<polyline points="250.8,356.5 250.8,362 270.4,376.4" stroke-width="0.8" fill="none" />
<line x1="268.9" y1="313.1" x2="268.9" y2="324.8" stroke-width="1.1" />
<line x1="268.9" y1="334.5" x2="268.9" y2="374" stroke-width="0.8" />
<line x1="288.5" y1="307.6" x2="288.5" y2="334.5" stroke-width="1.1" />
<line x1="288.5" y1="344.5" x2="288.5" y2="371.5" stroke-width="0.8" />
<line x1="308" y1="302.6" x2="308" y2="315.5" stroke-width="1.1" />
<line x1="308" y1="325.5" x2="308" y2="365" stroke-width="0.8" />
<ellipse cx="57.5" cy="444" rx="4.4" ry="7.2" stroke-width="1.1" fill="#fff" transform="rotate(-10 57.5 444)" />
<polygon points="49.0,439.0 56.0,437.0 59.0,451.0 52.0,453.0" fill="#fff" stroke="none"/>
<line x1="49" y1="439" x2="56" y2="437" stroke-width="1.1" />
<line x1="52" y1="453" x2="59" y2="451" stroke-width="1.1" />
<ellipse cx="50.5" cy="446" rx="4.4" ry="7.2" stroke-width="1.1" fill="#fff" transform="rotate(-10 50.5 446)" />
<ellipse cx="50.5" cy="446" rx="2.8" ry="4.8" stroke-width="0.8" fill="none" transform="rotate(-10 50.5 446)" />
<ellipse cx="75.5" cy="439.3" rx="7.6" ry="13.8" stroke-width="1.1" fill="#fff" transform="rotate(-10 75.5 439.3)" />
<polygon points="66.7,427.5 72.7,425.8 78.3,452.8 72.3,454.5" fill="#fff" stroke="none"/>
<line x1="66.7" y1="427.5" x2="72.7" y2="425.8" stroke-width="1.1" />
<line x1="72.3" y1="454.5" x2="78.3" y2="452.8" stroke-width="1.1" />
<ellipse cx="69.5" cy="441" rx="7.6" ry="13.8" stroke-width="1.1" fill="#fff" transform="rotate(-10 69.5 441)" />
<ellipse cx="69.5" cy="441" rx="6.2" ry="11.6" stroke-width="0.8" fill="none" transform="rotate(-10 69.5 441)" />
<ellipse cx="69.5" cy="441" rx="4.7" ry="8.6" stroke-width="1.2" fill="none" transform="rotate(-10 69.5 441)" />
<ellipse cx="73.2" cy="440.3" rx="0.8" ry="1.4" stroke-width="0.7" fill="none" />
<ellipse cx="73" cy="445.3" rx="0.8" ry="1.4" stroke-width="0.7" fill="none" />
<ellipse cx="70.7" cy="447.8" rx="0.8" ry="1.4" stroke-width="0.7" fill="none" />
<ellipse cx="67.7" cy="446.3" rx="0.8" ry="1.4" stroke-width="0.7" fill="none" />
<ellipse cx="65.8" cy="441.7" rx="0.8" ry="1.4" stroke-width="0.7" fill="none" />
<ellipse cx="66" cy="436.7" rx="0.8" ry="1.4" stroke-width="0.7" fill="none" />
<ellipse cx="68.3" cy="434.2" rx="0.8" ry="1.4" stroke-width="0.7" fill="none" />
<ellipse cx="71.3" cy="435.7" rx="0.8" ry="1.4" stroke-width="0.7" fill="none" />
<ellipse cx="69.5" cy="441" rx="2.9" ry="5.2" stroke-width="1.1" fill="#fff" transform="rotate(-10 69.5 441)" />
<ellipse cx="69.5" cy="441" rx="2.1" ry="3.9" stroke-width="0.8" fill="none" transform="rotate(-10 69.5 441)" />
<ellipse cx="92.5" cy="435.4" rx="7.6" ry="14" stroke-width="1.1" fill="#fff" transform="rotate(-10 92.5 435.4)" />
<polygon points="85.7,422.8 89.7,421.7 95.3,449.1 91.3,450.2" fill="#fff" stroke="none"/>
<line x1="85.7" y1="422.8" x2="89.7" y2="421.7" stroke-width="1.1" />
<line x1="91.3" y1="450.2" x2="95.3" y2="449.1" stroke-width="1.1" />
<ellipse cx="88.5" cy="436.5" rx="7.6" ry="14" stroke-width="1.1" fill="#fff" transform="rotate(-10 88.5 436.5)" />
<ellipse cx="88.5" cy="436.5" rx="5" ry="9" stroke-width="0.9" fill="none" transform="rotate(-10 88.5 436.5)" />
<ellipse cx="88.5" cy="436.5" rx="2.6" ry="4.4" stroke-width="1.1" fill="#fff" transform="rotate(-10 88.5 436.5)" />
<ellipse cx="131" cy="426" rx="5" ry="16" stroke-width="1.0" fill="#fff" transform="rotate(-8 131 426)" />
<polygon points="119,405.5 121,398.5 126.5,397.5 128,404.5" stroke-width="1.0" fill="#fff" />
<polygon points="126,412 137,410.5 141,414.5 140.5,421.5 129,422" stroke-width="1.0" fill="#fff" />
<polygon points="131,430 140,429.5 142.5,433 141,437.5 132,437" stroke-width="1.0" fill="#fff" />
<polygon points="128,441 135,440.5 137.5,446 135,452 129.5,452" stroke-width="1.0" fill="#fff" />
<line x1="137" y1="410.5" x2="138" y2="417.5" stroke-width="0.6" />
<line x1="140" y1="429.5" x2="140.5" y2="435" stroke-width="0.6" />
<ellipse cx="118" cy="426.7" rx="14.5" ry="28.5" stroke-width="1.2" fill="#fff" transform="rotate(-8 118 426.7)" />
<polygon points="109.3,399.6 113.3,398.6 122.7,454.8 118.7,455.8" fill="#fff" stroke="none"/>
<line x1="109.3" y1="399.6" x2="113.3" y2="398.6" stroke-width="1.2" />
<line x1="118.7" y1="455.8" x2="122.7" y2="454.8" stroke-width="1.2" />
<ellipse cx="114" cy="427.7" rx="14.5" ry="28.5" stroke-width="1.2" fill="#fff" transform="rotate(-8 114 427.7)" />
<ellipse cx="114.5" cy="428" rx="12" ry="23" stroke-width="0.8" fill="none" transform="rotate(-8 114.5 428)" />
<ellipse cx="114.8" cy="428" rx="11" ry="22" stroke-width="0.6" fill="none" transform="rotate(-8 114.8 428)" />
<ellipse cx="115.3" cy="428" rx="8" ry="15.2" stroke-width="0.8" fill="none" transform="rotate(-8 115.3 428)" />
<ellipse cx="116" cy="428" rx="4.2" ry="6.8" stroke-width="0.8" fill="#fff" transform="rotate(-8 116 428)" />
<ellipse cx="116.2" cy="428" rx="2.1" ry="3.1" stroke-width="0.8" fill="none" transform="rotate(-8 116.2 428)" />
<ellipse cx="157.5" cy="415.7" rx="15.6" ry="28.4" stroke-width="1.2" fill="none" transform="rotate(-12 157.5 415.7)" />
<ellipse cx="157.2" cy="416" rx="11.6" ry="21.2" stroke-width="1.0" fill="none" transform="rotate(-12 157.2 416)" />
<ellipse cx="157.4" cy="415.8" rx="14.5" ry="27.2" stroke-width="0.5" fill="none" transform="rotate(-12 157.4 415.8)" />
<line x1="126" y1="424" x2="158" y2="416" stroke-width="0.7" />
<line x1="162.5" y1="445" x2="162.5" y2="456" stroke-width="0.8" />
<polygon points="177,398.3 182.2,398.3 179.6,401.6" stroke-width="0.9" fill="#fff" />
<line x1="179.6" y1="390.5" x2="179.6" y2="395.5" stroke-width="0.8" />
<g transform="translate(201,403) rotate(-13.5)">
<rect x="-27" y="-4.6" width="29" height="9.2" fill="#fff" stroke="none"/>
<line x1="-27" y1="-4.6" x2="2" y2="-4.6" stroke-width="1.0" />
<line x1="-27" y1="4.6" x2="2" y2="4.6" stroke-width="1.0" />
<ellipse cx="-27" cy="0" rx="1.4" ry="4.6" stroke-width="1.0" fill="#fff" />
<rect x="-15" y="-5.4" width="6" height="10.8" fill="#fff" stroke="none"/>
<line x1="-15" y1="-5.4" x2="-9" y2="-5.4" stroke-width="0.9" />
<line x1="-15" y1="5.4" x2="-9" y2="5.4" stroke-width="0.9" />
<ellipse cx="-15" cy="0" rx="1.5" ry="5.4" stroke-width="0.9" fill="#fff" />
<ellipse cx="-9" cy="0" rx="1.5" ry="5.4" stroke-width="0.8" fill="none" />
<line x1="-24" y1="-3.2" x2="-16" y2="-3.2" stroke-width="0.5" />
</g>
<polygon points="208,386.5 224.2,384.1 260,374.8 264,397.5 224.2,416.2 208,419" fill="#fff" stroke="#000" stroke-width="1.1"/>
<line x1="224.2" y1="385.8" x2="261" y2="376" stroke-width="0.6" />
<line x1="224.2" y1="387.5" x2="261" y2="377.2" stroke-width="0.6" />
<line x1="224.2" y1="389.2" x2="261" y2="378.4" stroke-width="0.6" />
<line x1="224.2" y1="390.9" x2="261" y2="379.6" stroke-width="0.6" />
<line x1="224.2" y1="392.5" x2="261" y2="380.8" stroke-width="0.6" />
<line x1="224.2" y1="394.2" x2="261" y2="382" stroke-width="0.6" />
<line x1="224.2" y1="395.9" x2="261" y2="383.2" stroke-width="0.6" />
<line x1="224.2" y1="397.6" x2="261" y2="384.4" stroke-width="0.6" />
<line x1="224.2" y1="399.3" x2="261" y2="385.6" stroke-width="0.6" />
<line x1="224.2" y1="401" x2="261" y2="386.7" stroke-width="0.6" />
<line x1="224.2" y1="402.7" x2="261" y2="387.9" stroke-width="0.6" />
<line x1="224.2" y1="404.4" x2="261" y2="389.1" stroke-width="0.6" />
<line x1="224.2" y1="406.1" x2="261" y2="390.3" stroke-width="0.6" />
<line x1="224.2" y1="407.8" x2="261" y2="391.5" stroke-width="0.6" />
<line x1="224.2" y1="409.4" x2="261" y2="392.7" stroke-width="0.6" />
<line x1="224.2" y1="411.1" x2="261" y2="393.9" stroke-width="0.6" />
<line x1="224.2" y1="412.8" x2="261" y2="395.1" stroke-width="0.6" />
<line x1="224.2" y1="414.5" x2="261" y2="396.3" stroke-width="0.6" />
<line x1="224.2" y1="384.1" x2="224.2" y2="416.2" stroke-width="0.8" />
<ellipse cx="262.5" cy="386.2" rx="3.6" ry="11.4" stroke-width="1.1" fill="#fff" transform="rotate(-10 262.5 386.2)" />
<ellipse cx="264.5" cy="386" rx="1.6" ry="4.5" stroke-width="0.8" fill="none" transform="rotate(-10 264.5 386)" />
<ellipse cx="209.4" cy="401.1" rx="8" ry="16.6" stroke-width="1.2" fill="#fff" transform="rotate(-10 209.4 401.1)" />
<polygon points="200.4,386.0 206.4,384.8 212.4,417.4 206.4,418.6" fill="#fff" stroke="none"/>
<line x1="200.4" y1="386" x2="206.4" y2="384.8" stroke-width="1.2" />
<line x1="206.4" y1="418.6" x2="212.4" y2="417.4" stroke-width="1.2" />
<ellipse cx="203.4" cy="402.3" rx="8" ry="16.6" stroke-width="1.2" fill="#fff" transform="rotate(-10 203.4 402.3)" />
<ellipse cx="203.4" cy="402.3" rx="5.8" ry="13.2" stroke-width="0.8" fill="none" transform="rotate(-10 203.4 402.3)" />
<ellipse cx="202.8" cy="402.3" rx="3" ry="6" stroke-width="1.0" fill="#fff" transform="rotate(-10 202.8 402.3)" />
<ellipse cx="273.5" cy="381" rx="4.5" ry="6" stroke-width="1.1" fill="#fff" transform="rotate(-10 273.5 381)" />
<ellipse cx="273.5" cy="381" rx="2" ry="2.8" stroke-width="0.8" fill="none" />
<ellipse cx="281.7" cy="378.7" rx="3.7" ry="6.6" stroke-width="1.1" fill="#fff" transform="rotate(-10 281.7 378.7)" />
<ellipse cx="281.7" cy="378.7" rx="1.8" ry="3.2" stroke-width="0.8" fill="none" />
<ellipse cx="292.2" cy="376.4" rx="3.7" ry="6" stroke-width="1.1" fill="#fff" transform="rotate(-10 292.2 376.4)" />
<ellipse cx="292.2" cy="376.4" rx="1.8" ry="3" stroke-width="0.8" fill="none" />
<ellipse cx="307.5" cy="372.6" rx="5.6" ry="9.2" stroke-width="1.1" fill="#fff" transform="rotate(-10 307.5 372.6)" />
<polygon points="300.6,365.0 305.6,363.6 309.4,381.6 304.4,383.0" fill="#fff" stroke="none"/>
<line x1="300.6" y1="365" x2="305.6" y2="363.6" stroke-width="1.1" />
<line x1="304.4" y1="383" x2="309.4" y2="381.6" stroke-width="1.1" />
<ellipse cx="302.5" cy="374" rx="5.6" ry="9.2" stroke-width="1.1" fill="#fff" transform="rotate(-10 302.5 374)" />
<ellipse cx="302.5" cy="374" rx="4.6" ry="7.7" stroke-width="0.8" fill="none" transform="rotate(-10 302.5 374)" />
<ellipse cx="302.5" cy="374" rx="3.5" ry="5.7" stroke-width="1.2" fill="none" transform="rotate(-10 302.5 374)" />
<ellipse cx="305.3" cy="373.5" rx="0.6" ry="0.9" stroke-width="0.7" fill="none" />
<ellipse cx="305" cy="376.9" rx="0.6" ry="0.9" stroke-width="0.7" fill="none" />
<ellipse cx="303.3" cy="378.5" rx="0.6" ry="0.9" stroke-width="0.7" fill="none" />
<ellipse cx="301.1" cy="377.5" rx="0.6" ry="0.9" stroke-width="0.7" fill="none" />
<ellipse cx="299.7" cy="374.5" rx="0.6" ry="0.9" stroke-width="0.7" fill="none" />
<ellipse cx="300" cy="371.1" rx="0.6" ry="0.9" stroke-width="0.7" fill="none" />
<ellipse cx="301.7" cy="369.5" rx="0.6" ry="0.9" stroke-width="0.7" fill="none" />
<ellipse cx="303.9" cy="370.5" rx="0.6" ry="0.9" stroke-width="0.7" fill="none" />
<ellipse cx="302.5" cy="374" rx="2.1" ry="3.5" stroke-width="1.1" fill="#fff" transform="rotate(-10 302.5 374)" />
<ellipse cx="302.5" cy="374" rx="1.6" ry="2.6" stroke-width="0.8" fill="none" transform="rotate(-10 302.5 374)" />
<polygon points="304.5,392 315.5,390 318,407.5 307,409.5" stroke-width="1.0" fill="#fff" />
<polygon points="305.5,398.5 316.5,396.5 318,407.5 307,409.5" stroke-width="0.8" fill="#000" />
<ellipse cx="311.5" cy="403" rx="2.6" ry="2.6" stroke-width="1.1" fill="#fff" />
<line x1="304.5" y1="392" x2="315.5" y2="390" stroke-width="1.4" />
<line x1="305" y1="395" x2="316" y2="393" stroke-width="0.7" />
<path d="M339,331.5 L387,319.8 C391,323 394,325.5 396.2,328.3 C401,331 405.5,339 406.7,346.7 C407.8,355 408.5,368 408,375.5 L367,389 Z" stroke-width="1.1" fill="#fff" />
<line x1="362" y1="344.5" x2="403" y2="334.5" stroke-width="0.8" />
<line x1="364.7" y1="356.4" x2="406.8" y2="347.5" stroke-width="0.8" />
<line x1="366" y1="370" x2="407.8" y2="361" stroke-width="0.8" />
<line x1="366.4" y1="384" x2="408" y2="373.5" stroke-width="0.8" />
<line x1="345" y1="334" x2="388" y2="322.6" stroke-width="0.7" />
<ellipse cx="365.4" cy="353.5" rx="1.4" ry="1.8" stroke-width="0.8" fill="#fff" />
<ellipse cx="366.4" cy="386.5" rx="1.4" ry="1.8" stroke-width="0.8" fill="#fff" />
<path d="M387,319.8 C392,317 398,316.8 402,317.2 C410,318 415,324 418.5,331 C421.5,338 422.8,346 422.4,352 C422,359 420,366 416,371 C413,374 410,375.5 408,375.5 C408.5,368 407.8,355 406.7,346.7 C405.5,339 401,331 396.2,328.3 C392,324 389,321.5 387,319.8 Z" stroke-width="1.2" fill="#fff" />
<path d="M389.9,322 Q400.4,320.5 410.8,323.2" stroke-width="0.65" fill="none" />
<path d="M395.1,326.8 Q405.2,325.3 415.3,328" stroke-width="0.65" fill="none" />
<path d="M400,331.6 Q408.9,330.1 417.9,332.8" stroke-width="0.65" fill="none" />
<path d="M404.6,336.4 Q412.1,334.9 419.7,337.6" stroke-width="0.65" fill="none" />
<path d="M405.8,341.2 Q413.3,339.7 420.8,342.4" stroke-width="0.65" fill="none" />
<path d="M407,346 Q414.2,344.5 421.3,347.2" stroke-width="0.65" fill="none" />
<path d="M407.4,350.8 Q414.6,349.3 421.8,352" stroke-width="0.65" fill="none" />
<path d="M407.5,355.6 Q414.5,354.1 421.5,356.8" stroke-width="0.65" fill="none" />
<path d="M407.7,360.4 Q414.4,358.9 421.1,361.6" stroke-width="0.65" fill="none" />
<path d="M407.9,365.2 Q414.2,363.7 420.4,366.4" stroke-width="0.65" fill="none" />
<path d="M408.2,370 Q412.3,368.5 416.4,371.2" stroke-width="0.65" fill="none" />
<path d="M340,331 C326,334.5 318.5,349 319.3,365 C320,381 326.5,392.5 336,394.5 L362,390 C366.5,379 367.5,362 364.5,350 C361.5,340 353.5,332.5 345,330.5 Z" stroke-width="1.2" fill="#fff" />
<path d="M339.5,334 Q344.2,335.6 348.8,333.7" stroke-width="0.65" fill="none" />
<path d="M343.6,337.9 Q349,339.5 354.5,337.6" stroke-width="0.65" fill="none" />
<path d="M345.8,341.8 Q352.1,343.4 358.4,341.5" stroke-width="0.65" fill="none" />
<path d="M347.3,345.7 Q353.8,347.3 360.4,345.4" stroke-width="0.65" fill="none" />
<path d="M348.4,349.6 Q355.3,351.2 362.3,349.3" stroke-width="0.65" fill="none" />
<path d="M340.5,353.5 Q352.1,355.1 363.7,353.2" stroke-width="0.65" fill="none" />
<path d="M342.3,357.4 Q353.2,359 364.1,357.1" stroke-width="0.65" fill="none" />
<path d="M343.2,361.3 Q353.9,362.9 364.6,361" stroke-width="0.65" fill="none" />
<path d="M343.6,365.2 Q354.3,366.8 365,364.9" stroke-width="0.65" fill="none" />
<path d="M343.5,369.1 Q354.2,370.7 364.9,368.8" stroke-width="0.65" fill="none" />
<path d="M342.8,373 Q353.8,374.6 364.7,372.7" stroke-width="0.65" fill="none" />
<path d="M341.5,376.9 Q353.1,378.5 364.6,376.6" stroke-width="0.65" fill="none" />
<path d="M339,380.8 Q351.6,382.4 364.3,380.5" stroke-width="0.65" fill="none" />
<path d="M346.4,384.7 Q354.8,386.3 363.1,384.4" stroke-width="0.65" fill="none" />
<path d="M344.5,388.6 Q353.2,390.2 361.9,388.3" stroke-width="0.65" fill="none" />
<line x1="337.9" y1="393.4" x2="335" y2="384.1" stroke-width="0.6" />
<line x1="333.7" y1="391.6" x2="332.7" y2="383" stroke-width="0.6" />
<line x1="329.8" y1="388.5" x2="330.5" y2="381.1" stroke-width="0.6" />
<line x1="326.2" y1="384.1" x2="328.6" y2="378.4" stroke-width="0.6" />
<line x1="323.3" y1="378.8" x2="326.9" y2="375.2" stroke-width="0.6" />
<line x1="321.1" y1="372.7" x2="325.7" y2="371.5" stroke-width="0.6" />
<line x1="319.7" y1="366.1" x2="324.9" y2="367.6" stroke-width="0.6" />
<line x1="319.2" y1="359.5" x2="324.6" y2="363.6" stroke-width="0.6" />
<line x1="319.7" y1="353" x2="324.8" y2="359.8" stroke-width="0.6" />
<line x1="321" y1="347.1" x2="325.5" y2="356.2" stroke-width="0.6" />
<line x1="323.2" y1="341.9" x2="326.6" y2="353.1" stroke-width="0.6" />
<line x1="326.2" y1="337.8" x2="328.1" y2="350.7" stroke-width="0.6" />
<line x1="329.7" y1="334.9" x2="330" y2="349" stroke-width="0.6" />
<ellipse cx="335" cy="366.2" rx="10.2" ry="18.3" stroke-width="0.8" fill="none" transform="rotate(-8 335 366.2)" />
<ellipse cx="335" cy="366.2" rx="8.4" ry="16.4" stroke-width="1.3" fill="#fff" transform="rotate(-8 335 366.2)" />
<ellipse cx="335.8" cy="366.2" rx="7.2" ry="15" stroke-width="0.6" fill="none" transform="rotate(-8 335.8 366.2)" />
<line x1="325" y1="369" x2="346" y2="363" stroke-width="0.7" />
<line x1="364.7" y1="306.5" x2="364.7" y2="322.5" stroke-width="0.8" />
<ellipse cx="433.6" cy="337.7" rx="12.6" ry="20" stroke-width="1.3" fill="#fff" transform="rotate(-12 433.6 337.7)" />
<ellipse cx="434.5" cy="337.7" rx="9.5" ry="16.3" stroke-width="1.1" fill="none" transform="rotate(-12 434.5 337.7)" />
<line x1="425.2" y1="289" x2="425.2" y2="318" stroke-width="0.8" />
<g transform="translate(450.5,368.2) rotate(32)">
<rect x="-10.5" y="-5.2" width="21" height="10.4" rx="5" fill="#fff" stroke="#000" stroke-width="1.1"/>
<rect x="-10.5" y="-5.2" width="21" height="8.4" rx="4.2" fill="#fff" stroke="#000" stroke-width="0.8"/>
<ellipse cx="-5" cy="-1" rx="1.6" ry="1.6" stroke-width="0.8" fill="none" />
<ellipse cx="0" cy="-1" rx="1.6" ry="1.6" stroke-width="0.8" fill="none" />
<ellipse cx="5" cy="-1" rx="1.6" ry="1.6" stroke-width="0.8" fill="none" />
</g>
<line x1="445.8" y1="373.5" x2="445.8" y2="381.5" stroke-width="0.8" />
<path d="M471,283.4 L558.8,265.6 C568,264 578,270 583.4,279.3 C588,288 589,305 586,318 C583,328 577,334 567,337.5 L494.4,360 Z" stroke-width="1.2" fill="#fff" />
<polyline points="579.5,279 584,281.5 588.3,283.3 588.3,324.2 584.8,326" stroke-width="0.9" fill="none" />
<path d="M581,281 C584.5,290 585.5,306 583.5,323" stroke-width="0.6" fill="none" />
<ellipse cx="473.5" cy="325.5" rx="26.8" ry="40.5" stroke-width="1.3" fill="#fff" transform="rotate(-10 473.5 325.5)" />
<ellipse cx="473.2" cy="325.5" rx="25.2" ry="38.8" stroke-width="0.6" fill="none" transform="rotate(-10 473.2 325.5)" />
<ellipse cx="471.5" cy="326" rx="21" ry="34.5" stroke-width="1.1" fill="#fff" transform="rotate(-10 471.5 326)" />
<path d="M470,299.5 C479,312 481,335 474.5,352" stroke-width="0.5" fill="none" />
<path d="M472.3,300 C481.3,312 483.3,335 476.8,351.5" stroke-width="0.5" fill="none" />
<path d="M474.6,300.5 C483.6,312 485.6,335 479.1,351" stroke-width="0.5" fill="none" />
<path d="M476.9,301 C485.9,312 487.9,335 481.4,350.5" stroke-width="0.5" fill="none" />
<line x1="452.2" y1="332.6" x2="488.9" y2="325.7" stroke-width="0.8" />
<line x1="455.7" y1="343.1" x2="488.9" y2="334.4" stroke-width="0.8" />
<line x1="454" y1="303" x2="471.4" y2="299.5" stroke-width="0.8" />
<path d="M457.5,296.5 L458.5,291.5 C460,289.5 464,289 466,290.5 L466.5,295" stroke-width="0.9" fill="none" />
<ellipse cx="454" cy="296.8" rx="1.3" ry="1.7" stroke-width="0.8" fill="#fff" />
<ellipse cx="468" cy="292.5" rx="1.3" ry="1.7" stroke-width="0.8" fill="#fff" />
<ellipse cx="484" cy="312.5" rx="1.3" ry="1.7" stroke-width="0.8" fill="#fff" />
<ellipse cx="454" cy="339" rx="1.3" ry="1.7" stroke-width="0.8" fill="#fff" />
<ellipse cx="482.8" cy="359.5" rx="1.3" ry="1.7" stroke-width="0.8" fill="#fff" />
<path d="M496,302.5 L556.2,288 C560,287.2 561.5,293 558.8,294.6 L497,312.6" stroke-width="0.9" fill="none" />
<ellipse cx="535" cy="297.1" rx="1.4" ry="1.4" stroke-width="0.8" fill="#fff" />
<ellipse cx="551.5" cy="292.7" rx="1.4" ry="1.4" stroke-width="0.8" fill="#fff" />
<line x1="496" y1="345.5" x2="558" y2="337.8" stroke-width="0.8" />
<line x1="496" y1="348" x2="530" y2="342" stroke-width="0.6" />
<ellipse cx="479.3" cy="285.5" rx="8" ry="3.6" stroke-width="1.1" fill="#fff" />
<ellipse cx="479.3" cy="285.5" rx="4.5" ry="2" stroke-width="0.9" fill="#fff" />
<ellipse cx="480" cy="250.4" rx="8.6" ry="10.8" stroke-width="1.3" fill="#fff" />
<path d="M473.5,246 C474.5,241.5 478,240 481,240.2" stroke-width="1.6" fill="none" />
<ellipse cx="479.9" cy="250.8" rx="4.4" ry="7" stroke-width="1.2" fill="#fff" />
<path d="M476.5,256 C477.5,257.5 480,258 482,257" stroke-width="0.8" fill="none" />
<rect x="475" y="260" width="7.4" height="10.5" fill="#fff" stroke="#000" stroke-width="1"/>
<line x1="475" y1="263.5" x2="482.4" y2="263.5" stroke-width="0.8" />
<line x1="475.5" y1="265.5" x2="482" y2="265.5" stroke-width="0.6" />
<line x1="475.5" y1="267.5" x2="482" y2="267.5" stroke-width="0.6" />
<ellipse cx="478.7" cy="260.3" rx="4.4" ry="1.6" stroke-width="1.1" fill="#fff" />
<ellipse cx="478.9" cy="276" rx="5.6" ry="2.7" stroke-width="1.3" fill="#fff" />
<ellipse cx="478.9" cy="276" rx="2.6" ry="1.1" stroke-width="0.8" fill="none" />
<line x1="478.8" y1="278.8" x2="478.8" y2="282" stroke-width="0.7" />
<line x1="460.5" y1="253" x2="471" y2="251.5" stroke-width="0.8" />
<line x1="460.5" y1="273.5" x2="473.5" y2="275" stroke-width="0.8" />
<line x1="506.3" y1="233" x2="506.3" y2="275.5" stroke-width="0.8" />
<g transform="translate(553.3,352) rotate(-12)">
<rect x="-2.2" y="-6.5" width="4.4" height="13" rx="2" fill="#fff" stroke="#000" stroke-width="1"/>
</g>
<line x1="556.7" y1="349.9" x2="568.8" y2="349.9" stroke-width="0.8" />
<polygon points="580.8,343.4 583.8,346.3 580.8,349.2 577.8,346.3" stroke-width="0.9" fill="none" />
<polygon points="548,248.8 557.5,244.7 587.7,254.8 578,260.1" stroke-width="1.0" fill="#fff" />
<ellipse cx="556.7" cy="233.5" rx="2.4" ry="1.3" stroke-width="1.0" fill="#fff" />
<line x1="556.7" y1="234.8" x2="556.7" y2="245.5" stroke-width="0.7" stroke-dasharray="1.2 1"/>
<ellipse cx="577.2" cy="241.2" rx="2.4" ry="1.3" stroke-width="1.0" fill="#fff" />
<line x1="577.2" y1="242.5" x2="577.2" y2="256.2" stroke-width="0.7" stroke-dasharray="1.2 1"/>
<line x1="557.3" y1="260" x2="557.3" y2="282" stroke-width="0.6" />
<line x1="578" y1="260.5" x2="578" y2="276" stroke-width="0.6" />
<line x1="538.5" y1="237" x2="552" y2="235.6" stroke-width="0.8" />
<line x1="538.5" y1="256.3" x2="552" y2="254.8" stroke-width="0.8" />
<polygon points="589.5,262.2 599.3,260.4 623.8,273.8 614,276.3" stroke-width="1.0" fill="#fff" />
<polygon points="589.5,262.2 614,276.3 614,316 589.5,301.3" stroke-width="1.1" fill="#fff" />
<polygon points="614,276.3 623.8,273.8 623.8,313.5 614,316" stroke-width="1.1" fill="#fff" />
<line x1="605.8" y1="313.8" x2="605.8" y2="328.5" stroke-width="0.8" />
<line x1="589.5" y1="290.3" x2="601.8" y2="286.6" stroke-width="0.7" />
<path d="M579.8,278.7 C584,281 587,284 588.3,286" stroke-width="0.8" fill="none" />
<line x1="631.6" y1="193.2" x2="711.4" y2="173" stroke-width="1.5" />
<line x1="671.6" y1="178" x2="671.6" y2="183" stroke-width="0.8" />
<line x1="631.6" y1="193.2" x2="631.6" y2="200" stroke-width="1.1" />
<line x1="681.3" y1="180.6" x2="681.3" y2="222.5" stroke-width="1.1" />
<line x1="681.3" y1="232" x2="681.3" y2="241" stroke-width="0.8" />
<line x1="701.5" y1="175.8" x2="701.5" y2="206.5" stroke-width="1.1" />
<line x1="701.5" y1="215" x2="701.5" y2="257" stroke-width="0.8" />
<line x1="711.4" y1="173" x2="711.4" y2="223.5" stroke-width="1.1" />
<line x1="711.4" y1="232" x2="711.4" y2="253" stroke-width="0.8" />
<line x1="605.4" y1="220.7" x2="655.2" y2="207" stroke-width="1.5" />
<line x1="632" y1="209" x2="632" y2="213.6" stroke-width="0.8" />
<line x1="605.4" y1="220.7" x2="605.4" y2="240.5" stroke-width="1.1" />
<line x1="623.7" y1="215.8" x2="623.7" y2="230" stroke-width="1.1" />
<line x1="642" y1="210.8" x2="642" y2="219" stroke-width="1.1" />
<line x1="655.2" y1="207" x2="655.2" y2="251" stroke-width="1.1" />
<polyline points="605.4,250 605.4,254.5 614.5,259.5" stroke-width="0.8" fill="none" />
<polyline points="623.7,240 623.7,243 631,248" stroke-width="0.8" fill="none" />
<line x1="642" y1="228.5" x2="642" y2="242" stroke-width="0.8" />
<text x="590.8" y="238.8" font-size="9" fill="#000" stroke="none">&#10033;</text>
<g transform="translate(620,261.5) rotate(-18)">
<rect x="-4.5" y="-1.2" width="8" height="2.4" fill="#fff" stroke="#000" stroke-width="0.8"/>
<ellipse cx="-4.8" cy="0" rx="1.2" ry="2.2" stroke-width="0.9" fill="#fff" />
</g>
<polygon points="626,254.5 634.5,247.5 651,249 660.8,257 660.8,286 645,290 626,280.5" fill="#fff" stroke="#000" stroke-width="1.2"/>
<path d="M626,254.5 C627,256.5 630,257.5 633,258.5 L643,262 L660.8,259.5" stroke-width="1.0" fill="none" />
<path d="M628,256.5 L642,260.6 L659,258" stroke-width="0.7" fill="none" />
<line x1="640" y1="261.5" x2="640" y2="289.5" stroke-width="1.0" />
<line x1="643" y1="262" x2="643" y2="289.8" stroke-width="0.6" />
<line x1="640" y1="265.5" x2="660.8" y2="264.5" stroke-width="0.9" />
<line x1="626" y1="263" x2="640" y2="265.5" stroke-width="0.8" />
<line x1="640" y1="272.5" x2="660.8" y2="271.5" stroke-width="0.9" />
<line x1="626" y1="269.5" x2="640" y2="272.5" stroke-width="0.8" />
<line x1="640" y1="280" x2="660.8" y2="279" stroke-width="0.9" />
<line x1="626" y1="276" x2="640" y2="280" stroke-width="0.8" />
<rect x="642.5" y="266.3" width="5.5" height="4.4" rx="1.5" fill="#fff" stroke="#000" stroke-width="0.9"/>
<ellipse cx="645.2" cy="268.5" rx="1.4" ry="1.5" stroke-width="0.7" fill="#222" />
<rect x="642.5" y="273.8" width="5.5" height="4.4" rx="1.5" fill="#fff" stroke="#000" stroke-width="0.9"/>
<ellipse cx="645.2" cy="276" rx="1.4" ry="1.5" stroke-width="0.7" fill="#222" />
<rect x="642.5" y="281.8" width="5.5" height="4.4" rx="1.5" fill="#fff" stroke="#000" stroke-width="0.9"/>
<ellipse cx="645.2" cy="284" rx="1.4" ry="1.5" stroke-width="0.7" fill="#222" />
<rect x="627" y="261" width="4" height="3.6" fill="#333" stroke="none"/>
<ellipse cx="629" cy="262.8" rx="0.9" ry="0.9" stroke-width="0.5" fill="#fff" />
<rect x="627" y="267.5" width="4" height="3.6" fill="#333" stroke="none"/>
<ellipse cx="629" cy="269.3" rx="0.9" ry="0.9" stroke-width="0.5" fill="#fff" />
<rect x="627" y="274" width="4" height="3.6" fill="#333" stroke="none"/>
<ellipse cx="629" cy="275.8" rx="0.9" ry="0.9" stroke-width="0.5" fill="#fff" />
<path d="M634,252 L645,250.5 L653,254 L642,256.5 Z" stroke-width="0.7" fill="#bbb" />
<rect x="644" y="243.5" width="6" height="8" fill="#fff" stroke="#000" stroke-width="0.9"/>
<ellipse cx="647" cy="243.5" rx="3" ry="1.4" stroke-width="0.9" fill="#222" />
<line x1="644" y1="247" x2="650" y2="247" stroke-width="0.6" />
<path d="M668.8,239 L700.1,251.3 L701.7,274.3 L698.4,276 L690,272 L689,267.5 L677,263.5 L677,259.5 L670.5,257.9 Z" stroke-width="1.1" fill="#fff" />
<ellipse cx="674.5" cy="250" rx="1.3" ry="1.6" stroke-width="0.8" fill="none" />
<ellipse cx="697" cy="256" rx="1" ry="1.2" stroke-width="0.8" fill="none" />
<ellipse cx="695" cy="271" rx="1" ry="1.2" stroke-width="0.8" fill="none" />
<line x1="683" y1="255.5" x2="692" y2="258.5" stroke-width="0.6" stroke-dasharray="1 1"/>
<line x1="690" y1="262" x2="697" y2="264" stroke-width="0.7" />
<line x1="670" y1="241" x2="671.5" y2="256" stroke-width="0.7" />
<g transform="translate(709.5,255) rotate(-20)">
<rect x="-5" y="-1.1" width="8" height="2.2" fill="#fff" stroke="#000" stroke-width="0.8"/>
<ellipse cx="3.8" cy="0" rx="1.3" ry="2.2" stroke-width="0.9" fill="#fff" />
</g>
<ellipse cx="702.5" cy="258.3" rx="1.4" ry="1.6" stroke-width="1.2" fill="#fff" />
<g transform="translate(679.5,279.6) rotate(-18)">
<rect x="-3" y="-1.3" width="7" height="2.6" fill="#fff" stroke="#000" stroke-width="0.8"/>
<ellipse cx="-3.4" cy="0" rx="1.3" ry="2.2" stroke-width="0.9" fill="#fff" />
</g>
<ellipse cx="688.3" cy="276" rx="1.3" ry="1.6" stroke-width="1.1" fill="#fff" />
<line x1="677" y1="282" x2="677" y2="289" stroke-width="0.8" />
<line x1="688.3" y1="278" x2="688.3" y2="287.5" stroke-width="0.8" />
<rect x="422" y="416.5" width="3.6" height="13.5" fill="#fff" stroke="#000" stroke-width="0.9"/>
<path d="M420.2,417 C420,413.5 421.5,411.7 423.8,411.7 C426,411.7 427.6,413.5 427.4,417 Z" stroke-width="1.0" fill="#fff" />
<line x1="421" y1="414.5" x2="426.6" y2="414.5" stroke-width="0.6" />
<ellipse cx="424" cy="432" rx="3.6" ry="1.5" stroke-width="1.2" fill="#fff" />
<line x1="427.5" y1="418.1" x2="438.7" y2="415.6" stroke-width="0.8" />
<path d="M429.5,436 C438,435.5 445,437 449,440.5 C451,442.5 451.5,445.5 450.8,447 C449.8,448.6 447.5,448.6 445.5,447.2 C441,444.5 436,443.5 430.5,444 Z" stroke-width="1.1" fill="#fff" />
<path d="M440,440 C444.5,441.2 447.5,443 449.5,445.5" stroke-width="0.6" fill="none" />
<rect x="420.3" y="447" width="7" height="7" fill="#fff" stroke="#000" stroke-width="0.9"/>
<rect x="416.4" y="438.3" width="14.8" height="9.5" fill="#fff" stroke="none"/>
<line x1="416.4" y1="438.3" x2="416.4" y2="447.5" stroke-width="1.1" />
<line x1="431.2" y1="438.3" x2="431.2" y2="446.5" stroke-width="1.1" />
<path d="M416.4,447.5 C418,449.5 429.5,449.5 431.2,446.5" stroke-width="1.1" fill="none" />
<ellipse cx="423.8" cy="438.3" rx="7.4" ry="3" stroke-width="1.1" fill="#fff" />
<ellipse cx="423.8" cy="438.3" rx="4" ry="1.5" stroke-width="0.8" fill="none" />
<line x1="403.5" y1="444.5" x2="416" y2="442.5" stroke-width="0.8" />
<ellipse cx="423.5" cy="460.1" rx="7.1" ry="3.3" stroke-width="1.2" fill="#fff" />
<ellipse cx="423.5" cy="460.1" rx="3" ry="1.3" stroke-width="1.0" fill="#fff" />
<line x1="402.6" y1="457.8" x2="416.5" y2="458.5" stroke-width="0.8" />
<line x1="423.8" y1="452" x2="423.8" y2="458" stroke-width="0.7" />
<line x1="423.8" y1="463" x2="423.8" y2="468" stroke-width="0.7" />
<path d="M426,487.5 L433.3,477.6 C440,476 446,475.5 452,474.5 L473.4,470.4 C485,468 495,467 500,466.3 L514.4,465.3 C517,465.5 518.6,468 518.6,471.4 L518.6,485.8 C518,488.5 515,490.5 512.4,490 C509,488 506,490 503,492 C499,494.5 494,493 490,495 C486,497 481,496 477,498 C472,500 466,499 459,500.2 C455,504 453,509 452.8,512.5 L446.6,516.6 L426,529 Z" stroke-width="1.2" fill="#fff" />
<path d="M446.6,483.8 C465,479 490,475 505,472.5 C510,471.5 514,471 516.5,471.4" stroke-width="0.8" fill="none" />
<path d="M449,490 C468,485 492,480.5 508,477" stroke-width="0.6" fill="none" />
<path d="M446.6,483.8 C448,490 449,497 450,503 C451,508 451.5,512 452.8,512.5" stroke-width="0.8" fill="none" />
<path d="M459,500.2 C456,494 452,489 446.6,483.8" stroke-width="0.7" fill="none" />
<polygon points="395.3,474.5 407,469.5 436,479.5 426,487.5" stroke-width="1.1" fill="#fff" />
<polygon points="395.3,474.5 426,487.5 426,529 395.3,514.6" stroke-width="1.2" fill="#fff" />
<polygon points="400.4,480.7 422,492.5 422,523 399.6,509.6" stroke-width="1.0" fill="#fff" />
<polyline points="400.4,504.3 415.8,510.5 415.8,491.5" stroke-width="0.8" fill="none" />
<line x1="415.8" y1="510.5" x2="422" y2="523" stroke-width="0.7" />
<ellipse cx="397.8" cy="476.6" rx="1.1" ry="1.1" stroke-width="0.7" fill="none" />
<ellipse cx="397.8" cy="512.4" rx="1.1" ry="1.1" stroke-width="0.7" fill="none" />
<ellipse cx="424.2" cy="489.3" rx="1.1" ry="1.1" stroke-width="0.7" fill="none" />
<line x1="426" y1="529" x2="431" y2="527.5" stroke-width="1.0" />
<rect x="411.7" y="470" width="20.6" height="10" fill="#fff" stroke="none"/>
<line x1="411.7" y1="470" x2="411.7" y2="479.5" stroke-width="1.0" />
<line x1="432.3" y1="470" x2="432.3" y2="481.5" stroke-width="1.0" />
<path d="M411.7,479.5 C414,482.5 428,484 432.3,481.5" stroke-width="0.9" fill="none" />
<ellipse cx="422" cy="470" rx="10.3" ry="3.6" stroke-width="1.1" fill="#fff" />
<ellipse cx="422.5" cy="471" rx="3.8" ry="1.6" stroke-width="0.9" fill="#333" />
<line x1="478.6" y1="458.7" x2="478.6" y2="468.5" stroke-width="0.8" />
<path d="M591.7,388.7 C587.6,389.8 574.3,393 567.3,395.2 C560.3,397.4 554.6,399.6 549.9,402 C545.2,404.4 541.6,406.8 539,409.5 C536.4,412.2 534.9,415.2 534.3,418 C533.7,420.8 534.2,424.1 535.5,426.5 C536.8,428.9 539.2,431 542,432.5 C544.8,434 548.7,434.7 552,435.5 C555.3,436.3 559.2,436.5 562,437.5 C564.8,438.5 567.3,439.8 569,441.5 C570.7,443.2 571.9,445.7 572.3,448 C572.7,450.3 572.5,453.2 571.5,455.5 C570.5,457.8 568.6,460.2 566,462 C563.4,463.8 559.5,465.1 556,466 C552.5,466.9 548.6,467.4 545,467.5 C541.4,467.6 536,466.9 534.2,466.8" stroke-width="1.1" fill="none" />
<path d="M594.4,393.1 C590,394.3 575.1,398.2 568,400.5 C560.9,402.8 556,404.8 552,407 C548,409.2 545.8,411.8 544,414 C542.2,416.2 541.4,418.5 541.3,420.5 C541.2,422.5 542,424.5 543.5,426 C545,427.5 547.2,428.7 550,429.5 C552.8,430.3 556.8,430.2 560,431 C563.2,431.8 566.9,432.9 569.5,434.5 C572.1,436.1 574.2,438.1 575.5,440.5 C576.8,442.9 577.4,446.1 577.5,449 C577.6,451.9 577.2,455.2 576,458 C574.8,460.8 572.7,463.8 570,466 C567.3,468.2 563.8,469.8 560,471 C556.2,472.2 551.2,472.9 547,473.5 C542.8,474.1 537,474.3 535,474.5" stroke-width="1.1" fill="none" />
<line x1="591.7" y1="388.7" x2="594.4" y2="393.1" stroke-width="1.0" />
<line x1="534.2" y1="466.8" x2="535" y2="474.5" stroke-width="0.9" />
<line x1="524.5" y1="467.5" x2="534.5" y2="467" stroke-width="0.8" />
<line x1="524.5" y1="469.4" x2="534.5" y2="468.9" stroke-width="0.8" />
<line x1="524.5" y1="471.3" x2="534.5" y2="470.8" stroke-width="0.8" />
<line x1="524.5" y1="473.2" x2="534.5" y2="472.7" stroke-width="0.8" />
<line x1="526.5" y1="466.5" x2="527.5" y2="475" stroke-width="0.9" />
<line x1="529.5" y1="466.5" x2="530.5" y2="475" stroke-width="0.9" />
<line x1="558.8" y1="390" x2="558.8" y2="397" stroke-width="0.8" />
<g transform="translate(465,516) rotate(-20)">
<rect x="-12.5" y="-2.4" width="22" height="4.8" fill="#fff" stroke="#000" stroke-width="0.9"/>
<line x1="-11" y1="-2.4" x2="-10" y2="2.4" stroke-width="0.5" />
<line x1="-9" y1="-2.4" x2="-8" y2="2.4" stroke-width="0.5" />
<line x1="-7" y1="-2.4" x2="-6" y2="2.4" stroke-width="0.5" />
<line x1="-5" y1="-2.4" x2="-4" y2="2.4" stroke-width="0.5" />
<line x1="-3" y1="-2.4" x2="-2" y2="2.4" stroke-width="0.5" />
<line x1="-1" y1="-2.4" x2="0" y2="2.4" stroke-width="0.5" />
<line x1="1" y1="-2.4" x2="2" y2="2.4" stroke-width="0.5" />
<line x1="3" y1="-2.4" x2="4" y2="2.4" stroke-width="0.5" />
<line x1="5" y1="-2.4" x2="6" y2="2.4" stroke-width="0.5" />
<line x1="7" y1="-2.4" x2="8" y2="2.4" stroke-width="0.5" />
<ellipse cx="10.5" cy="0" rx="2.4" ry="4" stroke-width="1.1" fill="#fff" />
<ellipse cx="13" cy="0" rx="2.4" ry="4" stroke-width="1.1" fill="#fff" />
<rect x="10.5" y="-4" width="2.5" height="8" fill="#fff" stroke="none"/>
<line x1="10.5" y1="-4" x2="13" y2="-4" stroke-width="1.0" />
<line x1="10.5" y1="4" x2="13" y2="4" stroke-width="1.0" />
<ellipse cx="10.5" cy="0" rx="2.4" ry="4" stroke-width="1.1" fill="none" />
</g>
<line x1="465.2" y1="519.5" x2="465.2" y2="538.5" stroke-width="0.8" />
<g transform="translate(388,531) rotate(-14)">
<rect x="-1" y="-1.4" width="7" height="2.8" fill="#fff" stroke="#000" stroke-width="0.8"/>
<rect x="-7" y="-3.2" width="6" height="6.4" rx="1.5" fill="#fff" stroke="#000" stroke-width="1"/>
<line x1="-4" y1="-3.2" x2="-4" y2="3.2" stroke-width="0.6" />
</g>
<ellipse cx="397.2" cy="528" rx="2.6" ry="3.5" stroke-width="1.1" fill="#fff" />
<ellipse cx="397.2" cy="528" rx="1" ry="1.5" stroke-width="0.7" fill="none" />
<ellipse cx="405" cy="526" rx="2.4" ry="3.5" stroke-width="1.1" fill="#fff" />
<ellipse cx="405" cy="526" rx="1" ry="1.5" stroke-width="0.7" fill="none" />
<line x1="381.5" y1="533" x2="381.5" y2="540.5" stroke-width="0.8" />
<line x1="398" y1="530.5" x2="398" y2="540.5" stroke-width="0.8" />
<line x1="405.5" y1="529.5" x2="413" y2="539.5" stroke-width="0.8" />
<line x1="394" y1="528.8" x2="412" y2="524.5" stroke-width="0.7" />
<ellipse cx="368" cy="535" rx="4.6" ry="4.6" stroke-width="0.9" fill="none" />
<line x1="368" y1="532" x2="368" y2="535.5" stroke-width="0.9" />
<line x1="365" y1="535.5" x2="371" y2="535.5" stroke-width="0.9" />
<line x1="366" y1="537" x2="370" y2="537" stroke-width="0.9" />
<line x1="367" y1="538.5" x2="369" y2="538.5" stroke-width="0.9" />
<text x="491.6" y="529.8" font-size="9.5" fill="#000" stroke="none">&#10033;</text>
<polygon points="495,537.5 497.8,540.3 495,543.1 492.2,540.3" stroke-width="0.9" fill="none" />
<rect x="660.5" y="387.6" width="27" height="18.8" fill="#ddd" stroke="#000" stroke-width="0.9"/>
<rect x="661.5" y="388.6" width="25" height="16.8" fill="url(#stip)" stroke="none"/>
<rect x="654.8" y="387.6" width="7" height="18.8" rx="3" fill="#fff" stroke="#000" stroke-width="0.9"/>
<rect x="686.5" y="387.6" width="6.5" height="18.8" rx="3" fill="#fff" stroke="#000" stroke-width="0.9"/>
<rect x="673.8" y="418.7" width="18.7" height="15.8" fill="#fff" stroke="#000" stroke-width="1"/>
<polyline points="693,390.5 714.8,390.5 714.8,432.3 692.5,432.3" stroke-width="0.8" fill="none" />
<polyline points="693,392.6 709.2,392.6 709.2,426.8 692.5,426.8" stroke-width="0.8" fill="none" />
<polyline points="693,394.2 701.5,394.2 701.5,420.5 692.5,420.5" stroke-width="0.8" fill="none" />
<polyline points="720.4,410.5 720.4,444.2 689.7,444.2 689.7,454" stroke-width="0.8" fill="none" />
<polyline points="718.4,412.5 720.4,409.5 722.4,412.5" stroke-width="0.8" fill="none" />
<polyline points="673.8,421.2 651.3,421.2 651.3,447.7 677.8,447.7 677.8,454" stroke-width="0.8" fill="none" />
<polyline points="673.8,426.8 659,426.8 659,444.2 681.3,444.2 681.3,454" stroke-width="0.8" fill="none" />
<polyline points="673.8,433 666,433 666,440 685.5,440 685.5,454" stroke-width="0.8" fill="none" />
<line x1="702.8" y1="392" x2="702.8" y2="400" stroke-width="0.5" stroke-dasharray="0.6 0.6"/>
<line x1="709.8" y1="392" x2="709.8" y2="400" stroke-width="0.5" stroke-dasharray="0.6 0.6"/>
<line x1="716.5" y1="392" x2="716.5" y2="400" stroke-width="0.5" stroke-dasharray="0.6 0.6"/>
<path d="M256.1,477.9 L243.8,479.9 C240.5,480.5 237.5,483 235.6,486.4 L217.5,522.6 C216.5,525 215.5,526 214.2,526.7 C211,528 207,528.4 204.3,528.4" stroke-width="1.1" fill="none" />
<path d="M256.1,484.5 L244.6,485.6 C242.5,486 241,487 240.5,488.1 L222.4,525.9 C221,529 219.5,531 217.5,531.6 C213,533 208,533.3 204.3,533.3" stroke-width="1.1" fill="none" />
<rect x="256" y="477.4" width="4.2" height="5.8" fill="#fff" stroke="#000" stroke-width="0.9"/>
<line x1="258" y1="477.4" x2="258" y2="483.2" stroke-width="0.6" />
<line x1="204.3" y1="528.4" x2="204.3" y2="533.3" stroke-width="0.9" />
<line x1="204.3" y1="528.8" x2="168" y2="536.2" stroke-width="0.7" />
<line x1="204.3" y1="530.2" x2="168" y2="537.8" stroke-width="0.7" />
<line x1="204.3" y1="531.6" x2="168" y2="539.4" stroke-width="0.7" />
<line x1="204.3" y1="533" x2="168" y2="541" stroke-width="0.7" />
<line x1="161.6" y1="535.8" x2="170.5" y2="538.6" stroke-width="0.9" />
<line x1="161.9" y1="536.9" x2="170.5" y2="539.5" stroke-width="0.6" />
<line x1="168.2" y1="532.5" x2="177.5" y2="535.6" stroke-width="0.9" />
<line x1="168.5" y1="533.6" x2="177.5" y2="536.5" stroke-width="0.6" />
<line x1="179.7" y1="529.2" x2="188.5" y2="532.4" stroke-width="0.9" />
<line x1="180" y1="530.3" x2="188.5" y2="533.3" stroke-width="0.6" />
<line x1="187.9" y1="527.2" x2="196.5" y2="530.2" stroke-width="0.9" />
<line x1="188.2" y1="528.3" x2="196.5" y2="531.1" stroke-width="0.6" />
<line x1="164" y1="539.5" x2="169" y2="541.5" stroke-width="0.8" />
<polyline points="211.4,494.2 211.4,501.1 222.3,508" stroke-width="0.8" fill="none" />
<path d="M236,505 C236,503 238,502.5 240,503.5 L246.5,507.5 C248.5,509 248.8,512 247.5,513.8 C246.5,514.8 244.5,514.5 243.5,513.5 L237,508 C236.2,507.2 236,506 236,505 Z" stroke-width="1.0" fill="#fff" />
<ellipse cx="239.5" cy="505.5" rx="1.2" ry="1.2" stroke-width="0.7" fill="none" />
<ellipse cx="245.3" cy="511.3" rx="1.2" ry="1.2" stroke-width="0.7" fill="#000" />
<line x1="238" y1="509.5" x2="238" y2="538" stroke-width="0.8" />
<g transform="translate(256.5,512) rotate(-18)">
<rect x="-4.5" y="-1.3" width="8" height="2.6" fill="#fff" stroke="#000" stroke-width="0.8"/>
<ellipse cx="4" cy="0" rx="1.5" ry="2.5" stroke-width="1.0" fill="#fff" />
</g>
<line x1="255.2" y1="514.5" x2="255.2" y2="538" stroke-width="0.8" />
<ellipse cx="298.5" cy="526" rx="6.8" ry="10.8" stroke-width="1.2" fill="#fff" transform="rotate(-10 298.5 526)" />
<polygon points="287.9,517.4 296.4,515.4 300.6,536.6 292.1,538.6" fill="#fff" stroke="none"/>
<line x1="287.9" y1="517.4" x2="296.4" y2="515.4" stroke-width="1.2" />
<line x1="292.1" y1="538.6" x2="300.6" y2="536.6" stroke-width="1.2" />
<ellipse cx="290" cy="528" rx="6.8" ry="10.8" stroke-width="1.2" fill="#fff" transform="rotate(-10 290 528)" />
<ellipse cx="290" cy="528" rx="1.8" ry="2.8" stroke-width="0.9" fill="#fff" />
<line x1="291.4" y1="501" x2="291.4" y2="515" stroke-width="0.8" />
<g transform="translate(310,524.5) rotate(-12.5)">
<polygon points="10,-7.2 78,-6.2 78,6.2 10,7.2" fill="#fff" stroke="none"/>
<line x1="10" y1="-7.2" x2="78" y2="-6.2" stroke-width="1.1" />
<line x1="10" y1="7.2" x2="78" y2="6.2" stroke-width="1.1" />
<ellipse cx="0" cy="0" rx="3.6" ry="7.4" stroke-width="1.1" fill="#fff" />
<ellipse cx="3.5" cy="0" rx="3.6" ry="7.6" stroke-width="1.0" fill="#fff" />
<ellipse cx="7" cy="0" rx="3.6" ry="7.6" stroke-width="1.0" fill="#fff" />
<ellipse cx="10.5" cy="0" rx="3.4" ry="7.3" stroke-width="1.0" fill="#fff" />
<ellipse cx="0" cy="0" rx="2" ry="4.6" stroke-width="0.9" fill="none" />
<ellipse cx="78" cy="0" rx="2.8" ry="6.2" stroke-width="1.0" fill="#fff" />
<ellipse cx="81" cy="0" rx="2.8" ry="6.6" stroke-width="1.0" fill="#fff" />
<ellipse cx="84" cy="0" rx="2.8" ry="6.4" stroke-width="1.0" fill="#fff" />
</g>
<line x1="342.4" y1="490" x2="342.4" y2="507" stroke-width="0.8" />
<path d="M73.8,50.8 C75.8,50.8 76.2,52 76.2,54 L76.2,57.5 C76.2,59 76.8,59.8 78.2,60.2 C76.8,60.6 76.2,61.4 76.2,63 L76.2,66.5 C76.2,68.5 75.8,69.6 73.8,69.6" stroke-width="1.0" fill="none" />
</g>
<g fill="#000" font-family="Liberation Sans, sans-serif">
<text x="40.7" y="42.2" font-size="14" font-weight="bold" textLength="21.7" lengthAdjust="spacingAndGlyphs" >Typ</text>
<text x="67.2" y="42.2" font-size="14" textLength="6.3" lengthAdjust="spacingAndGlyphs" stroke="#000" stroke-width="0.35">0</text>
<text x="77.5" y="42.2" font-size="14" textLength="22.5" lengthAdjust="spacingAndGlyphs" stroke="#000" stroke-width="0.35">602</text>
<text x="105.2" y="42.2" font-size="14" font-weight="bold" textLength="24.8" lengthAdjust="spacingAndGlyphs" >220</text>
<text x="133.5" y="42.2" font-size="14" textLength="6" lengthAdjust="spacingAndGlyphs" stroke="#000" stroke-width="0.35">0</text>
<text x="144.2" y="42.2" font-size="14" textLength="7.4" lengthAdjust="spacingAndGlyphs" stroke="#000" stroke-width="0.35">. .</text>
<text x="41" y="58.4" font-size="10.8" textLength="27.4" lengthAdjust="spacingAndGlyphs" stroke="#000" stroke-width="0.25">Stand</text>
<text x="41" y="68.7" font-size="10.8" textLength="26.5" lengthAdjust="spacingAndGlyphs" stroke="#000" stroke-width="0.25">Issue</text>
<text x="84.7" y="63.5" font-size="10.8" textLength="29.9" lengthAdjust="spacingAndGlyphs" stroke="#000" stroke-width="0.25">90-06</text>
<text x="221.7" y="37.7" font-size="7.8" font-weight="bold" textLength="46" lengthAdjust="spacingAndGlyphs" >Linksgewinde</text>
<text x="221.7" y="45.2" font-size="7.8" font-weight="bold" textLength="52.5" lengthAdjust="spacingAndGlyphs" >Left hand threa</text>
<text x="221.7" y="52.7" font-size="7.8" font-weight="bold" textLength="53.5" lengthAdjust="spacingAndGlyphs" >Filetage gauche</text>
<text x="221.7" y="60.2" font-size="7.8" font-weight="bold" textLength="53.5" lengthAdjust="spacingAndGlyphs" >Rosca izquierda</text>
<text x="51.9" y="121.6" font-size="10.5" font-weight="bold" textLength="12.3" lengthAdjust="spacingAndGlyphs" >29</text>
<text x="73.8" y="116" font-size="10.5" font-weight="bold" textLength="12.4" lengthAdjust="spacingAndGlyphs" >28</text>
<text x="99.9" y="109" font-size="10.5" font-weight="bold" textLength="12.3" lengthAdjust="spacingAndGlyphs" >27</text>
<text x="187.5" y="74" font-size="10.5" font-weight="bold" textLength="12.4" lengthAdjust="spacingAndGlyphs" >24</text>
<text x="223.4" y="87" font-size="10.5" font-weight="bold" textLength="9.9" lengthAdjust="spacingAndGlyphs" >10</text>
<text x="246.8" y="80.4" font-size="10.5" font-weight="bold" textLength="11.6" lengthAdjust="spacingAndGlyphs" >23</text>
<text x="269" y="74.7" font-size="10.5" font-weight="bold" textLength="10.4" lengthAdjust="spacingAndGlyphs" >13</text>
<text x="287.5" y="70" font-size="10.5" font-weight="bold" textLength="12.3" lengthAdjust="spacingAndGlyphs" >22</text>
<text x="304.3" y="66.1" font-size="10.5" font-weight="bold" textLength="10.3" lengthAdjust="spacingAndGlyphs" >21</text>
<text x="381.7" y="45.1" font-size="10.5" font-weight="bold" textLength="10.3" lengthAdjust="spacingAndGlyphs" >12</text>
<text x="421" y="39.2" font-size="10.5" font-weight="bold" textLength="10.5" lengthAdjust="spacingAndGlyphs" >17</text>
<text x="458.6" y="106.3" font-size="10.5" font-weight="bold" textLength="6.2" lengthAdjust="spacingAndGlyphs" >9</text>
<text x="503" y="122.3" font-size="10.5" font-weight="bold" textLength="12.3" lengthAdjust="spacingAndGlyphs" >57</text>
<text x="429.9" y="146" font-size="10.5" font-weight="bold" textLength="5.4" lengthAdjust="spacingAndGlyphs" >8</text>
<text x="412" y="148.5" font-size="10.5" font-weight="bold" textLength="5.5" lengthAdjust="spacingAndGlyphs" >5</text>
<text x="394.2" y="154.4" font-size="10.5" font-weight="bold" textLength="11" lengthAdjust="spacingAndGlyphs" >15</text>
<text x="386" y="168" font-size="10.5" font-weight="bold" textLength="11" lengthAdjust="spacingAndGlyphs" >14</text>
<text x="373.7" y="160.7" font-size="10.5" font-weight="bold" textLength="12.3" lengthAdjust="spacingAndGlyphs" >20</text>
<text x="119.2" y="207.7" font-size="10.8" textLength="12" lengthAdjust="spacingAndGlyphs" stroke="#000" stroke-width="0.42">34</text>
<text x="136.8" y="203.3" font-size="10.8" textLength="12.2" lengthAdjust="spacingAndGlyphs" stroke="#000" stroke-width="0.42">60</text>
<text x="208.4" y="171.3" font-size="10.8" textLength="10" lengthAdjust="spacingAndGlyphs" stroke="#000" stroke-width="0.42">11</text>
<text x="210.8" y="193.3" font-size="10.8" textLength="19.6" lengthAdjust="spacingAndGlyphs" stroke="#000" stroke-width="0.42">11/6</text>
<text x="249.9" y="182.6" font-size="10.8" textLength="19.1" lengthAdjust="spacingAndGlyphs" stroke="#000" stroke-width="0.42">11/5</text>
<text x="233.4" y="215.5" font-size="10.8" textLength="19.2" lengthAdjust="spacingAndGlyphs" stroke="#000" stroke-width="0.42">11/3</text>
<text x="274.5" y="205.9" font-size="10.8" textLength="9.6" lengthAdjust="spacingAndGlyphs" stroke="#000" stroke-width="0.42">13</text>
<text x="294.5" y="201.2" font-size="10.8" textLength="5.2" lengthAdjust="spacingAndGlyphs" stroke="#000" stroke-width="0.42">6</text>
<text x="313.4" y="194.9" font-size="10.8" textLength="10.4" lengthAdjust="spacingAndGlyphs" stroke="#000" stroke-width="0.42">18</text>
<text x="332.9" y="189.4" font-size="10.8" textLength="10.9" lengthAdjust="spacingAndGlyphs" stroke="#000" stroke-width="0.42">19</text>
<text x="343" y="201.7" font-size="10.8" textLength="11" lengthAdjust="spacingAndGlyphs" stroke="#000" stroke-width="0.42">14</text>
<text x="353.2" y="183.9" font-size="10.8" textLength="12" lengthAdjust="spacingAndGlyphs" stroke="#000" stroke-width="0.42">20</text>
<text x="182.6" y="322.5" font-size="11.1" textLength="18.4" lengthAdjust="spacingAndGlyphs" stroke="#000" stroke-width="0.3">800</text>
<text x="252.3" y="332.6" font-size="11.1" textLength="33.2" lengthAdjust="spacingAndGlyphs" stroke="#000" stroke-width="0.3">800/13</text>
<text x="290.9" y="323.6" font-size="11.1" textLength="29.2" lengthAdjust="spacingAndGlyphs" stroke="#000" stroke-width="0.3">800/7</text>
<text x="272" y="342.3" font-size="11.1" textLength="34.6" lengthAdjust="spacingAndGlyphs" stroke="#000" stroke-width="0.3">800/10</text>
<text x="237.9" y="353.7" font-size="11.1" textLength="28.9" lengthAdjust="spacingAndGlyphs" stroke="#000" stroke-width="0.3">800/9</text>
<text x="41.8" y="391.5" font-size="11.1" textLength="29.5" lengthAdjust="spacingAndGlyphs" stroke="#000" stroke-width="0.3">800/6</text>
<text x="76.4" y="383.4" font-size="11.1" textLength="28.2" lengthAdjust="spacingAndGlyphs" stroke="#000" stroke-width="0.3">800/4</text>
<text x="110.5" y="373.6" font-size="11.1" textLength="29.1" lengthAdjust="spacingAndGlyphs" stroke="#000" stroke-width="0.3">800/3</text>
<text x="58.1" y="409.3" font-size="11.1" textLength="29.7" lengthAdjust="spacingAndGlyphs" stroke="#000" stroke-width="0.3">800/5</text>
<text x="174.3" y="388.4" font-size="11.1" textLength="11.3" lengthAdjust="spacingAndGlyphs" stroke="#000" stroke-width="0.3">16</text>
<text x="156" y="466.7" font-size="10.8" textLength="11.5" lengthAdjust="spacingAndGlyphs" stroke="#000" stroke-width="0.42">61</text>
<text x="362.3" y="303.7" font-size="11.1" textLength="5.2" lengthAdjust="spacingAndGlyphs" stroke="#000" stroke-width="0.3">3</text>
<text x="504" y="231.2" font-size="10.8" textLength="4.5" lengthAdjust="spacingAndGlyphs" stroke="#000" stroke-width="0.42">1</text>
<text x="441" y="256.7" font-size="10.8" textLength="19.3" lengthAdjust="spacingAndGlyphs" stroke="#000" stroke-width="0.42">802</text>
<text x="441" y="277.2" font-size="10.8" textLength="19.3" lengthAdjust="spacingAndGlyphs" stroke="#000" stroke-width="0.42">803</text>
<text x="419" y="287.4" font-size="10.8" textLength="12.5" lengthAdjust="spacingAndGlyphs" stroke="#000" stroke-width="0.42">59</text>
<text x="526.6" y="240.8" font-size="10.8" textLength="11.8" lengthAdjust="spacingAndGlyphs" stroke="#000" stroke-width="0.42">53</text>
<text x="526.6" y="260" font-size="10.8" textLength="11.8" lengthAdjust="spacingAndGlyphs" stroke="#000" stroke-width="0.42">52</text>
<text x="443.1" y="390.7" font-size="10.8" textLength="5.1" lengthAdjust="spacingAndGlyphs" stroke="#000" stroke-width="0.42">2</text>
<text x="570.3" y="353.7" font-size="10.8" textLength="5.1" lengthAdjust="spacingAndGlyphs" stroke="#000" stroke-width="0.42">4</text>
<text x="599" y="338.5" font-size="10.8" textLength="13.5" lengthAdjust="spacingAndGlyphs" stroke="#000" stroke-width="0.42">39</text>
<text x="665.6" y="176.7" font-size="10.8" textLength="11.8" lengthAdjust="spacingAndGlyphs" stroke="#000" stroke-width="0.42">36</text>
<text x="624.3" y="207.8" font-size="10.8" textLength="16.5" lengthAdjust="spacingAndGlyphs" stroke="#000" stroke-width="0.42">752</text>
<text x="626.4" y="227.7" font-size="10.8" textLength="27.4" lengthAdjust="spacingAndGlyphs" stroke="#000" stroke-width="0.42">752/7</text>
<text x="609.4" y="238.7" font-size="10.8" textLength="27.4" lengthAdjust="spacingAndGlyphs" stroke="#000" stroke-width="0.42">752/2</text>
<text x="591" y="248.7" font-size="10.8" textLength="27.5" lengthAdjust="spacingAndGlyphs" stroke="#000" stroke-width="0.42">752/4</text>
<text x="670.9" y="230.8" font-size="10.8" textLength="19.6" lengthAdjust="spacingAndGlyphs" stroke="#000" stroke-width="0.42">753</text>
<text x="693" y="213.8" font-size="10.8" textLength="17" lengthAdjust="spacingAndGlyphs" stroke="#000" stroke-width="0.42">754</text>
<text x="704" y="230.8" font-size="10.8" textLength="18" lengthAdjust="spacingAndGlyphs" stroke="#000" stroke-width="0.42">755</text>
<text x="671.7" y="297.7" font-size="10.8" textLength="11.5" lengthAdjust="spacingAndGlyphs" stroke="#000" stroke-width="0.42">41</text>
<text x="684.1" y="295.7" font-size="10.8" textLength="12.5" lengthAdjust="spacingAndGlyphs" stroke="#000" stroke-width="0.42">40</text>
<text x="440.9" y="420.4" font-size="10.5" font-weight="bold" textLength="27.5" lengthAdjust="spacingAndGlyphs" >752/1</text>
<text x="390.8" y="449.1" font-size="10.5" font-weight="bold" textLength="12.7" lengthAdjust="spacingAndGlyphs" >37</text>
<text x="389.8" y="462.8" font-size="10.5" font-weight="bold" textLength="12.8" lengthAdjust="spacingAndGlyphs" >38</text>
<text x="472.9" y="456.8" font-size="10.8" textLength="12.1" lengthAdjust="spacingAndGlyphs" stroke="#000" stroke-width="0.42">35</text>
<text x="552.2" y="388.8" font-size="10.8" textLength="13.6" lengthAdjust="spacingAndGlyphs" stroke="#000" stroke-width="0.42">44</text>
<text x="459.5" y="549.7" font-size="10.5" font-weight="bold" textLength="12.7" lengthAdjust="spacingAndGlyphs" >42</text>
<text x="374.8" y="549.7" font-size="10.5" font-weight="bold" textLength="12.8" lengthAdjust="spacingAndGlyphs" >47</text>
<text x="392.4" y="549.7" font-size="10.5" font-weight="bold" textLength="12.1" lengthAdjust="spacingAndGlyphs" >49</text>
<text x="408.3" y="549.7" font-size="10.5" font-weight="bold" textLength="12.8" lengthAdjust="spacingAndGlyphs" >48</text>
<text x="204.5" y="491.2" font-size="10.8" textLength="12.9" lengthAdjust="spacingAndGlyphs" stroke="#000" stroke-width="0.42">44</text>
<text x="231.4" y="547.4" font-size="10.8" textLength="12.8" lengthAdjust="spacingAndGlyphs" stroke="#000" stroke-width="0.42">46</text>
<text x="250.5" y="547.4" font-size="10.8" textLength="11.5" lengthAdjust="spacingAndGlyphs" stroke="#000" stroke-width="0.42">41</text>
<text x="285.3" y="499.4" font-size="10.8" textLength="12.4" lengthAdjust="spacingAndGlyphs" stroke="#000" stroke-width="0.42">43</text>
<text x="335.9" y="487.7" font-size="10.8" textLength="13.4" lengthAdjust="spacingAndGlyphs" stroke="#000" stroke-width="0.42">45</text>
<text x="502.6" y="527.9" font-size="7.6" textLength="76.7" lengthAdjust="spacingAndGlyphs" stroke="#000" stroke-width="0.18">mit Loctite 222 sichern</text>
<text x="502.6" y="535.2" font-size="7.6" textLength="76.7" lengthAdjust="spacingAndGlyphs" stroke="#000" stroke-width="0.18">secure with Loctite 222</text>
<text x="502.6" y="542.7" font-size="7.6" textLength="76.7" lengthAdjust="spacingAndGlyphs" stroke="#000" stroke-width="0.18">mit Loctite 242 sichern</text>
<text x="502.6" y="550.2" font-size="7.6" textLength="78.3" lengthAdjust="spacingAndGlyphs" stroke="#000" stroke-width="0.18">secure with Loctite 242</text>
<text x="597" y="501.2" font-size="7.6" textLength="82.7" lengthAdjust="spacingAndGlyphs" stroke="#000" stroke-width="0.15">&#196;nderungen vorbehalten</text>
<text x="597" y="508.8" font-size="7.6" textLength="75.9" lengthAdjust="spacingAndGlyphs" stroke="#000" stroke-width="0.15">Modifications reserved</text>
<text x="597" y="516.4" font-size="7.6" textLength="79.2" lengthAdjust="spacingAndGlyphs" stroke="#000" stroke-width="0.15">Modifications r&#232;serv&#233;es</text>
<text x="597" y="524.2" font-size="7.6" textLength="71.3" lengthAdjust="spacingAndGlyphs" stroke="#000" stroke-width="0.15">Salvo modificaciones</text>
<text x="597" y="533.4" font-size="7.2" font-weight="bold" textLength="71.3" lengthAdjust="spacingAndGlyphs" >Robert Bosch GmbH</text>
<text x="597" y="541.2" font-size="7.2" font-weight="bold" textLength="123.1" lengthAdjust="spacingAndGlyphs" >Gesch&#228;ftsbereich Elektrowerkzeuge</text>
<text x="597" y="548.8" font-size="7.2" font-weight="bold" textLength="117.6" lengthAdjust="spacingAndGlyphs" >D 7022 Leinfelden-Echterdingen 1</text>
</g>
</svg>
</body></html>
